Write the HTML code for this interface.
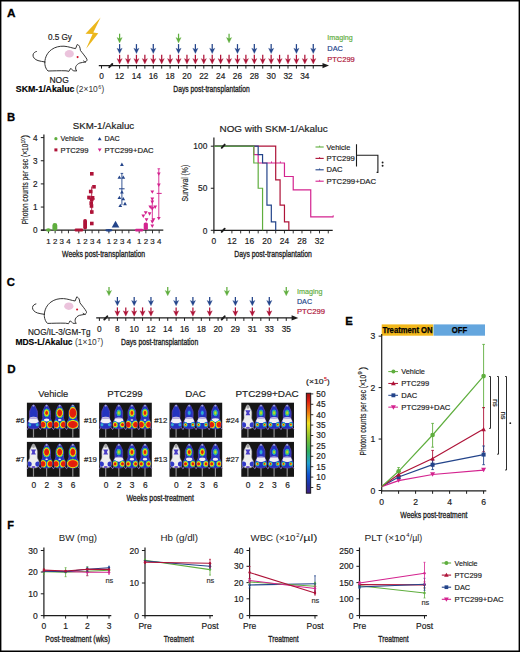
<!DOCTYPE html><html><head><meta charset="utf-8"><title>Figure</title><style>html,body{margin:0;padding:0;background:#fff;}body{width:520px;height:652px;position:relative;overflow:hidden;}text{font-family:"Liberation Sans",sans-serif;}</style></head><body><svg width="520" height="652" viewBox="0 0 520 652" style="position:absolute;left:0;top:0">
<g font-family='"Liberation Sans", sans-serif'>
<rect x="0" y="0" width="520" height="652" fill="#fff"/>
<defs>
<g id="mouse"><ellipse cx="69.3" cy="53.8" rx="4.6" ry="3.7" fill="#ebc3dc"/><circle cx="77.6" cy="57.1" r="1.05" fill="#d0102a"/><path d="M36.4,51.5 C35,51.8 33.2,53 33,55 C32.8,57.5 35,59.6 38,60.6 C40.2,61.3 42.5,61.5 44.8,61.9 M44.8,62.2 C45,57 47.5,52.5 51.5,49.6 C55,47 59.5,46 64,46.2 C68.5,46.5 72.5,48.2 75.6,48.6 L77.2,44.5 C78,44.6 79,45.4 79.6,46.6 C80.2,48 80.2,49.3 80.4,50.4 C82.6,53.3 85.5,56.6 86.9,59.2 C87.3,60.4 86.6,61.6 85,62 C83.5,62.4 81.5,62.5 79.8,63 C78,63.6 76.6,65 75.8,66.6 C75.4,68.4 75.6,69.8 76.8,70.9 L73.4,70.9 C72.6,69.8 71.6,68.8 70.4,68.6 C69.8,69.6 69.6,70.8 69,71.3 L66,70.8 C60,70.6 53,70.9 48,71 C46.2,69.4 45.2,66.8 44.9,64.4 C44.8,63.4 44.8,62.8 44.8,62.2 M83.6,61.0 C84.2,61.6 84.8,62 85.6,62.1 " fill="none" stroke="#2a2a2a" stroke-width="0.95" stroke-linejoin="round" stroke-linecap="round"/></g>
</defs>
<path d="M0 0 H520 V652 H0 Z M1.4 1.4 V650.6 H518.6 V1.4 Z" fill="#000" fill-rule="evenodd"/>
<text x="6.90" y="17.30" font-size="11.8" text-anchor="start" fill="#000" font-weight="bold" stroke="#000" stroke-width="0.3">A</text>
<use href="#mouse"/>
<text x="59.90" y="40.40" font-size="8.4" text-anchor="middle" fill="#1c1c1c" stroke="#1c1c1c" stroke-width="0.18" textLength="24" lengthAdjust="spacingAndGlyphs" >0.5 Gy</text>
<path d="M100.6,17.4 L85.5,33.7 L92.6,33.9 L86.1,48.7 L98.3,33.3 L93.3,32.6 Z" fill="#ecb71d"/>
<text x="59.10" y="82.70" font-size="8.4" text-anchor="middle" fill="#1c1c1c" stroke="#1c1c1c" stroke-width="0.18" textLength="19.3" lengthAdjust="spacingAndGlyphs" >NOG</text>
<text x="15.80" y="92.30" font-size="8.4" text-anchor="start" fill="#000" font-weight="bold" textLength="58.6" lengthAdjust="spacingAndGlyphs" stroke="#000" stroke-width="0.15">SKM-1/Akaluc</text>
<text x="76.00" y="92.30" font-size="8.2" text-anchor="start" fill="#333" stroke="#333" stroke-width="0.18" textLength="21.8" lengthAdjust="spacingAndGlyphs" stroke-opacity="0">(2×10</text>
<text x="98.30" y="89.20" font-size="5.4" text-anchor="start" fill="#333" stroke="#333" stroke-width="0.18" stroke-opacity="0">6</text>
<text x="101.50" y="92.30" font-size="8.2" text-anchor="start" fill="#333" stroke="#333" stroke-width="0.18" stroke-opacity="0">)</text>
<line x1="98.80" y1="65.60" x2="325.50" y2="65.60" stroke="#1c1c1c" stroke-width="1.2" />
<path d="M322.5 63.00 L329 65.60 L322.5 68.20 Z" fill="#1c1c1c"/>
<line x1="101.50" y1="65.60" x2="101.50" y2="68.60" stroke="#1c1c1c" stroke-width="1.0" />
<line x1="119.60" y1="65.60" x2="119.60" y2="68.60" stroke="#1c1c1c" stroke-width="1.0" />
<line x1="128.02" y1="65.60" x2="128.02" y2="68.60" stroke="#1c1c1c" stroke-width="1.0" />
<line x1="136.44" y1="65.60" x2="136.44" y2="68.60" stroke="#1c1c1c" stroke-width="1.0" />
<line x1="144.86" y1="65.60" x2="144.86" y2="68.60" stroke="#1c1c1c" stroke-width="1.0" />
<line x1="153.28" y1="65.60" x2="153.28" y2="68.60" stroke="#1c1c1c" stroke-width="1.0" />
<line x1="161.70" y1="65.60" x2="161.70" y2="68.60" stroke="#1c1c1c" stroke-width="1.0" />
<line x1="170.12" y1="65.60" x2="170.12" y2="68.60" stroke="#1c1c1c" stroke-width="1.0" />
<line x1="178.54" y1="65.60" x2="178.54" y2="68.60" stroke="#1c1c1c" stroke-width="1.0" />
<line x1="186.96" y1="65.60" x2="186.96" y2="68.60" stroke="#1c1c1c" stroke-width="1.0" />
<line x1="195.38" y1="65.60" x2="195.38" y2="68.60" stroke="#1c1c1c" stroke-width="1.0" />
<line x1="203.80" y1="65.60" x2="203.80" y2="68.60" stroke="#1c1c1c" stroke-width="1.0" />
<line x1="212.22" y1="65.60" x2="212.22" y2="68.60" stroke="#1c1c1c" stroke-width="1.0" />
<line x1="220.64" y1="65.60" x2="220.64" y2="68.60" stroke="#1c1c1c" stroke-width="1.0" />
<line x1="229.06" y1="65.60" x2="229.06" y2="68.60" stroke="#1c1c1c" stroke-width="1.0" />
<line x1="237.48" y1="65.60" x2="237.48" y2="68.60" stroke="#1c1c1c" stroke-width="1.0" />
<line x1="245.90" y1="65.60" x2="245.90" y2="68.60" stroke="#1c1c1c" stroke-width="1.0" />
<line x1="254.32" y1="65.60" x2="254.32" y2="68.60" stroke="#1c1c1c" stroke-width="1.0" />
<line x1="262.74" y1="65.60" x2="262.74" y2="68.60" stroke="#1c1c1c" stroke-width="1.0" />
<line x1="271.16" y1="65.60" x2="271.16" y2="68.60" stroke="#1c1c1c" stroke-width="1.0" />
<line x1="279.58" y1="65.60" x2="279.58" y2="68.60" stroke="#1c1c1c" stroke-width="1.0" />
<line x1="288.00" y1="65.60" x2="288.00" y2="68.60" stroke="#1c1c1c" stroke-width="1.0" />
<line x1="296.42" y1="65.60" x2="296.42" y2="68.60" stroke="#1c1c1c" stroke-width="1.0" />
<line x1="304.84" y1="65.60" x2="304.84" y2="68.60" stroke="#1c1c1c" stroke-width="1.0" />
<line x1="313.26" y1="65.60" x2="313.26" y2="68.60" stroke="#1c1c1c" stroke-width="1.0" />
<path d="M109.30 67.20 L112.30 64.00" stroke="#1c1c1c" stroke-width="1.9" stroke-linecap="round"/>
<text x="101.50" y="78.70" font-size="8.3" text-anchor="middle" fill="#1c1c1c" stroke="#1c1c1c" stroke-width="0.18" >0</text>
<text x="119.60" y="78.70" font-size="8.3" text-anchor="middle" fill="#1c1c1c" stroke="#1c1c1c" stroke-width="0.18" >12</text>
<text x="136.44" y="78.70" font-size="8.3" text-anchor="middle" fill="#1c1c1c" stroke="#1c1c1c" stroke-width="0.18" >14</text>
<text x="153.28" y="78.70" font-size="8.3" text-anchor="middle" fill="#1c1c1c" stroke="#1c1c1c" stroke-width="0.18" >16</text>
<text x="170.12" y="78.70" font-size="8.3" text-anchor="middle" fill="#1c1c1c" stroke="#1c1c1c" stroke-width="0.18" >18</text>
<text x="186.96" y="78.70" font-size="8.3" text-anchor="middle" fill="#1c1c1c" stroke="#1c1c1c" stroke-width="0.18" >20</text>
<text x="203.80" y="78.70" font-size="8.3" text-anchor="middle" fill="#1c1c1c" stroke="#1c1c1c" stroke-width="0.18" >22</text>
<text x="220.64" y="78.70" font-size="8.3" text-anchor="middle" fill="#1c1c1c" stroke="#1c1c1c" stroke-width="0.18" >24</text>
<text x="237.48" y="78.70" font-size="8.3" text-anchor="middle" fill="#1c1c1c" stroke="#1c1c1c" stroke-width="0.18" >26</text>
<text x="254.32" y="78.70" font-size="8.3" text-anchor="middle" fill="#1c1c1c" stroke="#1c1c1c" stroke-width="0.18" >28</text>
<text x="271.16" y="78.70" font-size="8.3" text-anchor="middle" fill="#1c1c1c" stroke="#1c1c1c" stroke-width="0.18" >30</text>
<text x="288.00" y="78.70" font-size="8.3" text-anchor="middle" fill="#1c1c1c" stroke="#1c1c1c" stroke-width="0.18" >32</text>
<text x="304.84" y="78.70" font-size="8.3" text-anchor="middle" fill="#1c1c1c" stroke="#1c1c1c" stroke-width="0.18" >34</text>
<text x="173.30" y="91.60" font-size="9.2" fill="#1c1c1c" stroke="#1c1c1c" stroke-width="0.32" textLength="76.40" lengthAdjust="spacingAndGlyphs">Days post-transplantation</text>
<path d="M119.60 54.80 V60.10" stroke="#ae1338" stroke-width="1.25"/>
<path d="M117.00 58.60 L119.60 64.00 L122.20 58.60 L119.60 59.90 Z" fill="#ae1338" stroke="#ae1338" stroke-width="0.3" stroke-linejoin="round"/>
<path d="M128.02 54.80 V60.10" stroke="#ae1338" stroke-width="1.25"/>
<path d="M125.42 58.60 L128.02 64.00 L130.62 58.60 L128.02 59.90 Z" fill="#ae1338" stroke="#ae1338" stroke-width="0.3" stroke-linejoin="round"/>
<path d="M136.44 54.80 V60.10" stroke="#ae1338" stroke-width="1.25"/>
<path d="M133.84 58.60 L136.44 64.00 L139.04 58.60 L136.44 59.90 Z" fill="#ae1338" stroke="#ae1338" stroke-width="0.3" stroke-linejoin="round"/>
<path d="M144.86 54.80 V60.10" stroke="#ae1338" stroke-width="1.25"/>
<path d="M142.26 58.60 L144.86 64.00 L147.46 58.60 L144.86 59.90 Z" fill="#ae1338" stroke="#ae1338" stroke-width="0.3" stroke-linejoin="round"/>
<path d="M153.28 54.80 V60.10" stroke="#ae1338" stroke-width="1.25"/>
<path d="M150.68 58.60 L153.28 64.00 L155.88 58.60 L153.28 59.90 Z" fill="#ae1338" stroke="#ae1338" stroke-width="0.3" stroke-linejoin="round"/>
<path d="M161.70 54.80 V60.10" stroke="#ae1338" stroke-width="1.25"/>
<path d="M159.10 58.60 L161.70 64.00 L164.30 58.60 L161.70 59.90 Z" fill="#ae1338" stroke="#ae1338" stroke-width="0.3" stroke-linejoin="round"/>
<path d="M170.12 54.80 V60.10" stroke="#ae1338" stroke-width="1.25"/>
<path d="M167.52 58.60 L170.12 64.00 L172.72 58.60 L170.12 59.90 Z" fill="#ae1338" stroke="#ae1338" stroke-width="0.3" stroke-linejoin="round"/>
<path d="M178.54 54.80 V60.10" stroke="#ae1338" stroke-width="1.25"/>
<path d="M175.94 58.60 L178.54 64.00 L181.14 58.60 L178.54 59.90 Z" fill="#ae1338" stroke="#ae1338" stroke-width="0.3" stroke-linejoin="round"/>
<path d="M186.96 54.80 V60.10" stroke="#ae1338" stroke-width="1.25"/>
<path d="M184.36 58.60 L186.96 64.00 L189.56 58.60 L186.96 59.90 Z" fill="#ae1338" stroke="#ae1338" stroke-width="0.3" stroke-linejoin="round"/>
<path d="M195.38 54.80 V60.10" stroke="#ae1338" stroke-width="1.25"/>
<path d="M192.78 58.60 L195.38 64.00 L197.98 58.60 L195.38 59.90 Z" fill="#ae1338" stroke="#ae1338" stroke-width="0.3" stroke-linejoin="round"/>
<path d="M203.80 54.80 V60.10" stroke="#ae1338" stroke-width="1.25"/>
<path d="M201.20 58.60 L203.80 64.00 L206.40 58.60 L203.80 59.90 Z" fill="#ae1338" stroke="#ae1338" stroke-width="0.3" stroke-linejoin="round"/>
<path d="M212.22 54.80 V60.10" stroke="#ae1338" stroke-width="1.25"/>
<path d="M209.62 58.60 L212.22 64.00 L214.82 58.60 L212.22 59.90 Z" fill="#ae1338" stroke="#ae1338" stroke-width="0.3" stroke-linejoin="round"/>
<path d="M220.64 54.80 V60.10" stroke="#ae1338" stroke-width="1.25"/>
<path d="M218.04 58.60 L220.64 64.00 L223.24 58.60 L220.64 59.90 Z" fill="#ae1338" stroke="#ae1338" stroke-width="0.3" stroke-linejoin="round"/>
<path d="M229.06 54.80 V60.10" stroke="#ae1338" stroke-width="1.25"/>
<path d="M226.46 58.60 L229.06 64.00 L231.66 58.60 L229.06 59.90 Z" fill="#ae1338" stroke="#ae1338" stroke-width="0.3" stroke-linejoin="round"/>
<path d="M237.48 54.80 V60.10" stroke="#ae1338" stroke-width="1.25"/>
<path d="M234.88 58.60 L237.48 64.00 L240.08 58.60 L237.48 59.90 Z" fill="#ae1338" stroke="#ae1338" stroke-width="0.3" stroke-linejoin="round"/>
<path d="M245.90 54.80 V60.10" stroke="#ae1338" stroke-width="1.25"/>
<path d="M243.30 58.60 L245.90 64.00 L248.50 58.60 L245.90 59.90 Z" fill="#ae1338" stroke="#ae1338" stroke-width="0.3" stroke-linejoin="round"/>
<path d="M254.32 54.80 V60.10" stroke="#ae1338" stroke-width="1.25"/>
<path d="M251.72 58.60 L254.32 64.00 L256.92 58.60 L254.32 59.90 Z" fill="#ae1338" stroke="#ae1338" stroke-width="0.3" stroke-linejoin="round"/>
<path d="M262.74 54.80 V60.10" stroke="#ae1338" stroke-width="1.25"/>
<path d="M260.14 58.60 L262.74 64.00 L265.34 58.60 L262.74 59.90 Z" fill="#ae1338" stroke="#ae1338" stroke-width="0.3" stroke-linejoin="round"/>
<path d="M271.16 54.80 V60.10" stroke="#ae1338" stroke-width="1.25"/>
<path d="M268.56 58.60 L271.16 64.00 L273.76 58.60 L271.16 59.90 Z" fill="#ae1338" stroke="#ae1338" stroke-width="0.3" stroke-linejoin="round"/>
<path d="M279.58 54.80 V60.10" stroke="#ae1338" stroke-width="1.25"/>
<path d="M276.98 58.60 L279.58 64.00 L282.18 58.60 L279.58 59.90 Z" fill="#ae1338" stroke="#ae1338" stroke-width="0.3" stroke-linejoin="round"/>
<path d="M288.00 54.80 V60.10" stroke="#ae1338" stroke-width="1.25"/>
<path d="M285.40 58.60 L288.00 64.00 L290.60 58.60 L288.00 59.90 Z" fill="#ae1338" stroke="#ae1338" stroke-width="0.3" stroke-linejoin="round"/>
<path d="M296.42 54.80 V60.10" stroke="#ae1338" stroke-width="1.25"/>
<path d="M293.82 58.60 L296.42 64.00 L299.02 58.60 L296.42 59.90 Z" fill="#ae1338" stroke="#ae1338" stroke-width="0.3" stroke-linejoin="round"/>
<path d="M304.84 54.80 V60.10" stroke="#ae1338" stroke-width="1.25"/>
<path d="M302.24 58.60 L304.84 64.00 L307.44 58.60 L304.84 59.90 Z" fill="#ae1338" stroke="#ae1338" stroke-width="0.3" stroke-linejoin="round"/>
<path d="M313.26 54.80 V60.10" stroke="#ae1338" stroke-width="1.25"/>
<path d="M310.66 58.60 L313.26 64.00 L315.86 58.60 L313.26 59.90 Z" fill="#ae1338" stroke="#ae1338" stroke-width="0.3" stroke-linejoin="round"/>
<path d="M119.60 44.10 V49.70" stroke="#23448a" stroke-width="1.25"/>
<path d="M117.00 48.20 L119.60 53.60 L122.20 48.20 L119.60 49.50 Z" fill="#23448a" stroke="#23448a" stroke-width="0.3" stroke-linejoin="round"/>
<path d="M136.44 44.10 V49.70" stroke="#23448a" stroke-width="1.25"/>
<path d="M133.84 48.20 L136.44 53.60 L139.04 48.20 L136.44 49.50 Z" fill="#23448a" stroke="#23448a" stroke-width="0.3" stroke-linejoin="round"/>
<path d="M153.28 44.10 V49.70" stroke="#23448a" stroke-width="1.25"/>
<path d="M150.68 48.20 L153.28 53.60 L155.88 48.20 L153.28 49.50 Z" fill="#23448a" stroke="#23448a" stroke-width="0.3" stroke-linejoin="round"/>
<path d="M178.54 44.10 V49.70" stroke="#23448a" stroke-width="1.25"/>
<path d="M175.94 48.20 L178.54 53.60 L181.14 48.20 L178.54 49.50 Z" fill="#23448a" stroke="#23448a" stroke-width="0.3" stroke-linejoin="round"/>
<path d="M195.38 44.10 V49.70" stroke="#23448a" stroke-width="1.25"/>
<path d="M192.78 48.20 L195.38 53.60 L197.98 48.20 L195.38 49.50 Z" fill="#23448a" stroke="#23448a" stroke-width="0.3" stroke-linejoin="round"/>
<path d="M212.22 44.10 V49.70" stroke="#23448a" stroke-width="1.25"/>
<path d="M209.62 48.20 L212.22 53.60 L214.82 48.20 L212.22 49.50 Z" fill="#23448a" stroke="#23448a" stroke-width="0.3" stroke-linejoin="round"/>
<path d="M237.48 44.10 V49.70" stroke="#23448a" stroke-width="1.25"/>
<path d="M234.88 48.20 L237.48 53.60 L240.08 48.20 L237.48 49.50 Z" fill="#23448a" stroke="#23448a" stroke-width="0.3" stroke-linejoin="round"/>
<path d="M254.32 44.10 V49.70" stroke="#23448a" stroke-width="1.25"/>
<path d="M251.72 48.20 L254.32 53.60 L256.92 48.20 L254.32 49.50 Z" fill="#23448a" stroke="#23448a" stroke-width="0.3" stroke-linejoin="round"/>
<path d="M271.16 44.10 V49.70" stroke="#23448a" stroke-width="1.25"/>
<path d="M268.56 48.20 L271.16 53.60 L273.76 48.20 L271.16 49.50 Z" fill="#23448a" stroke="#23448a" stroke-width="0.3" stroke-linejoin="round"/>
<path d="M296.42 44.10 V49.70" stroke="#23448a" stroke-width="1.25"/>
<path d="M293.82 48.20 L296.42 53.60 L299.02 48.20 L296.42 49.50 Z" fill="#23448a" stroke="#23448a" stroke-width="0.3" stroke-linejoin="round"/>
<path d="M313.26 44.10 V49.70" stroke="#23448a" stroke-width="1.25"/>
<path d="M310.66 48.20 L313.26 53.60 L315.86 48.20 L313.26 49.50 Z" fill="#23448a" stroke="#23448a" stroke-width="0.3" stroke-linejoin="round"/>
<path d="M119.60 33.70 V39.00" stroke="#5fae3e" stroke-width="1.25"/>
<path d="M117.00 37.50 L119.60 42.90 L122.20 37.50 L119.60 38.80 Z" fill="#5fae3e" stroke="#5fae3e" stroke-width="0.3" stroke-linejoin="round"/>
<path d="M178.54 33.70 V39.00" stroke="#5fae3e" stroke-width="1.25"/>
<path d="M175.94 37.50 L178.54 42.90 L181.14 37.50 L178.54 38.80 Z" fill="#5fae3e" stroke="#5fae3e" stroke-width="0.3" stroke-linejoin="round"/>
<path d="M229.06 33.70 V39.00" stroke="#5fae3e" stroke-width="1.25"/>
<path d="M226.46 37.50 L229.06 42.90 L231.66 37.50 L229.06 38.80 Z" fill="#5fae3e" stroke="#5fae3e" stroke-width="0.3" stroke-linejoin="round"/>
<text x="327.30" y="40.30" font-size="7.9" text-anchor="start" fill="#5fae3e" stroke="#5fae3e" stroke-width="0.18" textLength="25.4" lengthAdjust="spacingAndGlyphs" >Imaging</text>
<text x="327.30" y="50.80" font-size="7.9" text-anchor="start" fill="#23448a" stroke="#23448a" stroke-width="0.18" textLength="15.7" lengthAdjust="spacingAndGlyphs" >DAC</text>
<text x="327.30" y="61.60" font-size="7.9" text-anchor="start" fill="#ae1338" stroke="#ae1338" stroke-width="0.18" textLength="27.5" lengthAdjust="spacingAndGlyphs" >PTC299</text>
<text x="6.90" y="120.90" font-size="11.3" text-anchor="start" fill="#000" font-weight="bold" stroke="#000" stroke-width="0.3">B</text>
<text x="103.50" y="129.20" font-size="9.6" text-anchor="middle" fill="#1c1c1c" stroke="#1c1c1c" stroke-width="0.18" textLength="61.4" lengthAdjust="spacingAndGlyphs" >SKM-1/Akaluc</text>
<line x1="43.90" y1="134.60" x2="43.90" y2="230.80" stroke="#1c1c1c" stroke-width="1.2" />
<line x1="40.90" y1="230.20" x2="163.30" y2="230.20" stroke="#1c1c1c" stroke-width="1.2" />
<line x1="40.80" y1="230.20" x2="43.90" y2="230.20" stroke="#1c1c1c" stroke-width="1.0" />
<text x="37.60" y="233.10" font-size="8.2" text-anchor="end" fill="#1c1c1c" stroke="#1c1c1c" stroke-width="0.18" >0</text>
<line x1="40.80" y1="207.05" x2="43.90" y2="207.05" stroke="#1c1c1c" stroke-width="1.0" />
<text x="37.60" y="209.95" font-size="8.2" text-anchor="end" fill="#1c1c1c" stroke="#1c1c1c" stroke-width="0.18" >1</text>
<line x1="40.80" y1="183.90" x2="43.90" y2="183.90" stroke="#1c1c1c" stroke-width="1.0" />
<text x="37.60" y="186.80" font-size="8.2" text-anchor="end" fill="#1c1c1c" stroke="#1c1c1c" stroke-width="0.18" >2</text>
<line x1="40.80" y1="160.75" x2="43.90" y2="160.75" stroke="#1c1c1c" stroke-width="1.0" />
<text x="37.60" y="163.65" font-size="8.2" text-anchor="end" fill="#1c1c1c" stroke="#1c1c1c" stroke-width="0.18" >3</text>
<line x1="40.80" y1="137.60" x2="43.90" y2="137.60" stroke="#1c1c1c" stroke-width="1.0" />
<text x="37.60" y="140.50" font-size="8.2" text-anchor="end" fill="#1c1c1c" stroke="#1c1c1c" stroke-width="0.18" >4</text>
<line x1="48.50" y1="230.20" x2="48.50" y2="233.30" stroke="#1c1c1c" stroke-width="0.9" />
<text x="48.50" y="243.90" font-size="7.9" text-anchor="middle" fill="#1c1c1c" stroke="#1c1c1c" stroke-width="0.18" >1</text>
<line x1="55.15" y1="230.20" x2="55.15" y2="233.30" stroke="#1c1c1c" stroke-width="0.9" />
<text x="55.15" y="243.90" font-size="7.9" text-anchor="middle" fill="#1c1c1c" stroke="#1c1c1c" stroke-width="0.18" >2</text>
<line x1="61.80" y1="230.20" x2="61.80" y2="233.30" stroke="#1c1c1c" stroke-width="0.9" />
<text x="61.80" y="243.90" font-size="7.9" text-anchor="middle" fill="#1c1c1c" stroke="#1c1c1c" stroke-width="0.18" >3</text>
<line x1="68.45" y1="230.20" x2="68.45" y2="233.30" stroke="#1c1c1c" stroke-width="0.9" />
<text x="68.45" y="243.90" font-size="7.9" text-anchor="middle" fill="#1c1c1c" stroke="#1c1c1c" stroke-width="0.18" >4</text>
<line x1="78.80" y1="230.20" x2="78.80" y2="233.30" stroke="#1c1c1c" stroke-width="0.9" />
<text x="78.80" y="243.90" font-size="7.9" text-anchor="middle" fill="#1c1c1c" stroke="#1c1c1c" stroke-width="0.18" >1</text>
<line x1="85.45" y1="230.20" x2="85.45" y2="233.30" stroke="#1c1c1c" stroke-width="0.9" />
<text x="85.45" y="243.90" font-size="7.9" text-anchor="middle" fill="#1c1c1c" stroke="#1c1c1c" stroke-width="0.18" >2</text>
<line x1="92.10" y1="230.20" x2="92.10" y2="233.30" stroke="#1c1c1c" stroke-width="0.9" />
<text x="92.10" y="243.90" font-size="7.9" text-anchor="middle" fill="#1c1c1c" stroke="#1c1c1c" stroke-width="0.18" >3</text>
<line x1="98.75" y1="230.20" x2="98.75" y2="233.30" stroke="#1c1c1c" stroke-width="0.9" />
<text x="98.75" y="243.90" font-size="7.9" text-anchor="middle" fill="#1c1c1c" stroke="#1c1c1c" stroke-width="0.18" >4</text>
<line x1="108.90" y1="230.20" x2="108.90" y2="233.30" stroke="#1c1c1c" stroke-width="0.9" />
<text x="108.90" y="243.90" font-size="7.9" text-anchor="middle" fill="#1c1c1c" stroke="#1c1c1c" stroke-width="0.18" >1</text>
<line x1="115.55" y1="230.20" x2="115.55" y2="233.30" stroke="#1c1c1c" stroke-width="0.9" />
<text x="115.55" y="243.90" font-size="7.9" text-anchor="middle" fill="#1c1c1c" stroke="#1c1c1c" stroke-width="0.18" >2</text>
<line x1="122.20" y1="230.20" x2="122.20" y2="233.30" stroke="#1c1c1c" stroke-width="0.9" />
<text x="122.20" y="243.90" font-size="7.9" text-anchor="middle" fill="#1c1c1c" stroke="#1c1c1c" stroke-width="0.18" >3</text>
<line x1="128.85" y1="230.20" x2="128.85" y2="233.30" stroke="#1c1c1c" stroke-width="0.9" />
<text x="128.85" y="243.90" font-size="7.9" text-anchor="middle" fill="#1c1c1c" stroke="#1c1c1c" stroke-width="0.18" >4</text>
<line x1="139.20" y1="230.20" x2="139.20" y2="233.30" stroke="#1c1c1c" stroke-width="0.9" />
<text x="139.20" y="243.90" font-size="7.9" text-anchor="middle" fill="#1c1c1c" stroke="#1c1c1c" stroke-width="0.18" >1</text>
<line x1="145.85" y1="230.20" x2="145.85" y2="233.30" stroke="#1c1c1c" stroke-width="0.9" />
<text x="145.85" y="243.90" font-size="7.9" text-anchor="middle" fill="#1c1c1c" stroke="#1c1c1c" stroke-width="0.18" >2</text>
<line x1="152.50" y1="230.20" x2="152.50" y2="233.30" stroke="#1c1c1c" stroke-width="0.9" />
<text x="152.50" y="243.90" font-size="7.9" text-anchor="middle" fill="#1c1c1c" stroke="#1c1c1c" stroke-width="0.18" >3</text>
<line x1="159.15" y1="230.20" x2="159.15" y2="233.30" stroke="#1c1c1c" stroke-width="0.9" />
<text x="159.15" y="243.90" font-size="7.9" text-anchor="middle" fill="#1c1c1c" stroke="#1c1c1c" stroke-width="0.18" >4</text>
<text x="62.10" y="256.70" font-size="9.2" fill="#1c1c1c" stroke="#1c1c1c" stroke-width="0.32" textLength="83.10" lengthAdjust="spacingAndGlyphs">Weeks post-transplantation</text>
<g transform="translate(28.4 224.3) rotate(-90)">
<text x="0.00" y="0.00" font-size="9.6" text-anchor="start" fill="#1c1c1c" stroke="#1c1c1c" stroke-width="0.18" textLength="80.6" lengthAdjust="spacingAndGlyphs" >Photon counts per sec (×10</text>
<text x="81.00" y="-3.80" font-size="5.6" text-anchor="start" fill="#1c1c1c" stroke="#1c1c1c" stroke-width="0.18" textLength="5.0" lengthAdjust="spacingAndGlyphs" >10</text>
<text x="86.20" y="0.00" font-size="9.6" text-anchor="start" fill="#1c1c1c" stroke="#1c1c1c" stroke-width="0.18" >)</text>
</g>
<circle cx="55.9" cy="138.7" r="1.6" fill="#5fae3e"/>
<text x="60.60" y="141.40" font-size="7.8" text-anchor="start" fill="#1c1c1c" stroke="#1c1c1c" stroke-width="0.18" textLength="23.2" lengthAdjust="spacingAndGlyphs" >Vehicle</text>
<rect x="54.4" y="148.4" width="3.0" height="3.0" fill="#ae1338"/>
<text x="60.60" y="152.70" font-size="7.8" text-anchor="start" fill="#1c1c1c" stroke="#1c1c1c" stroke-width="0.18" textLength="27.9" lengthAdjust="spacingAndGlyphs" >PTC299</text>
<path d="M97.8 140.3 L99.7 136.9 L101.6 140.3 Z" fill="#23448a"/>
<text x="104.60" y="141.40" font-size="7.8" text-anchor="start" fill="#1c1c1c" stroke="#1c1c1c" stroke-width="0.18" textLength="15.2" lengthAdjust="spacingAndGlyphs" >DAC</text>
<path d="M97.8 148.4 L99.7 151.8 L101.6 148.4 Z" fill="#d4238f"/>
<text x="104.60" y="152.70" font-size="7.8" text-anchor="start" fill="#1c1c1c" stroke="#1c1c1c" stroke-width="0.18" textLength="49.1" lengthAdjust="spacingAndGlyphs" >PTC299+DAC</text>
<ellipse cx="48.4" cy="230.0" rx="2.5" ry="1.7" fill="#5fae3e"/>
<rect x="52.4" y="223.1" width="4.9" height="7.8" rx="2.4" fill="#5fae3e"/>
<rect x="74.6" y="228.6" width="8.6" height="2.8" rx="1.2" fill="#ae1338"/>
<rect x="83.2" y="219.0" width="3.8" height="10.5" rx="1.8" fill="#ae1338"/>
<line x1="91.70" y1="186.50" x2="91.70" y2="214.00" stroke="#ae1338" stroke-width="0.9" />
<line x1="88.60" y1="199.00" x2="94.80" y2="199.00" stroke="#ae1338" stroke-width="1.0" />
<rect x="90.00" y="172.00" width="3.6" height="3.6" fill="#ae1338"/>
<rect x="92.20" y="185.00" width="3.6" height="3.6" fill="#ae1338"/>
<rect x="88.90" y="189.70" width="3.6" height="3.6" fill="#ae1338"/>
<rect x="87.20" y="195.70" width="3.6" height="3.6" fill="#ae1338"/>
<rect x="90.80" y="196.00" width="3.6" height="3.6" fill="#ae1338"/>
<rect x="90.00" y="197.70" width="3.6" height="3.6" fill="#ae1338"/>
<rect x="89.40" y="201.20" width="3.6" height="3.6" fill="#ae1338"/>
<rect x="89.70" y="204.20" width="3.6" height="3.6" fill="#ae1338"/>
<rect x="90.00" y="210.20" width="3.6" height="3.6" fill="#ae1338"/>
<rect x="90.00" y="221.70" width="3.6" height="3.6" fill="#ae1338"/>
<ellipse cx="108.8" cy="230.3" rx="3.6" ry="1.4" fill="#23448a"/>
<path d="M111.7 227.6 L115.5 220.7 L119.4 227.6 Z" fill="#23448a"/>
<line x1="121.90" y1="173.40" x2="121.90" y2="205.00" stroke="#23448a" stroke-width="0.9" />
<line x1="120.60" y1="173.40" x2="123.20" y2="173.40" stroke="#23448a" stroke-width="0.9" />
<line x1="119.00" y1="188.80" x2="124.60" y2="188.80" stroke="#23448a" stroke-width="1.0" />
<path d="M120.00 165.91 L121.90 162.49 L123.80 165.91 Z" fill="#23448a"/>
<path d="M117.50 178.81 L119.40 175.39 L121.30 178.81 Z" fill="#23448a"/>
<path d="M121.40 178.81 L123.30 175.39 L125.20 178.81 Z" fill="#23448a"/>
<path d="M120.00 193.61 L121.90 190.19 L123.80 193.61 Z" fill="#23448a"/>
<path d="M117.50 199.11 L119.40 195.69 L121.30 199.11 Z" fill="#23448a"/>
<path d="M121.40 200.31 L123.30 196.89 L125.20 200.31 Z" fill="#23448a"/>
<path d="M123.10 205.21 L125.00 201.79 L126.90 205.21 Z" fill="#23448a"/>
<path d="M118.40 207.11 L120.30 203.69 L122.20 207.11 Z" fill="#23448a"/>
<rect x="135" y="228.8" width="8.2" height="2.6" rx="1.2" fill="#d4238f"/>
<rect x="143.7" y="222.5" width="4.2" height="7.5" rx="1.6" fill="#d4238f"/>
<path d="M143.80 211.29 L145.70 214.71 L147.60 211.29 Z" fill="#d4238f"/>
<path d="M141.40 214.49 L143.30 217.91 L145.20 214.49 Z" fill="#d4238f"/>
<path d="M147.70 212.29 L149.60 215.71 L151.50 212.29 Z" fill="#d4238f"/>
<path d="M144.60 218.29 L146.50 221.71 L148.40 218.29 Z" fill="#d4238f"/>
<line x1="152.30" y1="199.30" x2="152.30" y2="222.00" stroke="#d4238f" stroke-width="0.9" />
<line x1="150.30" y1="207.20" x2="154.50" y2="207.20" stroke="#d4238f" stroke-width="0.9" />
<path d="M150.40 190.39 L152.30 193.81 L154.20 190.39 Z" fill="#d4238f"/>
<path d="M150.40 197.59 L152.30 201.01 L154.20 197.59 Z" fill="#d4238f"/>
<path d="M150.40 200.59 L152.30 204.01 L154.20 200.59 Z" fill="#d4238f"/>
<path d="M148.40 205.49 L150.30 208.91 L152.20 205.49 Z" fill="#d4238f"/>
<path d="M153.30 205.49 L155.20 208.91 L157.10 205.49 Z" fill="#d4238f"/>
<path d="M150.40 207.29 L152.30 210.71 L154.20 207.29 Z" fill="#d4238f"/>
<path d="M151.60 218.19 L153.50 221.61 L155.40 218.19 Z" fill="#d4238f"/>
<path d="M150.40 220.29 L152.30 223.71 L154.20 220.29 Z" fill="#d4238f"/>
<path d="M150.40 224.59 L152.30 228.01 L154.20 224.59 Z" fill="#d4238f"/>
<line x1="158.80" y1="168.80" x2="158.80" y2="218.60" stroke="#d4238f" stroke-width="0.9" />
<line x1="157.50" y1="168.80" x2="160.10" y2="168.80" stroke="#d4238f" stroke-width="0.9" />
<line x1="156.70" y1="193.40" x2="161.70" y2="193.40" stroke="#d4238f" stroke-width="1.0" />
<path d="M156.90 172.39 L158.80 175.81 L160.70 172.39 Z" fill="#d4238f"/>
<path d="M156.90 183.49 L158.80 186.91 L160.70 183.49 Z" fill="#d4238f"/>
<path d="M156.90 216.89 L158.80 220.31 L160.70 216.89 Z" fill="#d4238f"/>
<text x="273.60" y="132.20" font-size="9.6" text-anchor="middle" fill="#1c1c1c" stroke="#1c1c1c" stroke-width="0.18" textLength="108.2" lengthAdjust="spacingAndGlyphs" >NOG with SKM-1/Akaluc</text>
<line x1="213.90" y1="137.40" x2="213.90" y2="233.40" stroke="#1c1c1c" stroke-width="1.2" />
<line x1="213.90" y1="230.30" x2="332.70" y2="230.30" stroke="#1c1c1c" stroke-width="1.2" />
<line x1="210.80" y1="230.30" x2="213.90" y2="230.30" stroke="#1c1c1c" stroke-width="1.0" />
<line x1="210.80" y1="188.25" x2="213.90" y2="188.25" stroke="#1c1c1c" stroke-width="1.0" />
<line x1="210.80" y1="146.20" x2="213.90" y2="146.20" stroke="#1c1c1c" stroke-width="1.0" />
<text x="207.30" y="148.90" font-size="8.4" text-anchor="end" fill="#1c1c1c" stroke="#1c1c1c" stroke-width="0.18" >100</text>
<text x="207.30" y="191.20" font-size="8.4" text-anchor="end" fill="#1c1c1c" stroke="#1c1c1c" stroke-width="0.18" >50</text>
<text x="207.30" y="233.50" font-size="8.4" text-anchor="end" fill="#1c1c1c" stroke="#1c1c1c" stroke-width="0.18" >0</text>
<line x1="231.90" y1="230.30" x2="231.90" y2="233.40" stroke="#1c1c1c" stroke-width="0.9" />
<line x1="240.66" y1="230.30" x2="240.66" y2="233.40" stroke="#1c1c1c" stroke-width="0.9" />
<line x1="249.42" y1="230.30" x2="249.42" y2="233.40" stroke="#1c1c1c" stroke-width="0.9" />
<line x1="258.18" y1="230.30" x2="258.18" y2="233.40" stroke="#1c1c1c" stroke-width="0.9" />
<line x1="266.94" y1="230.30" x2="266.94" y2="233.40" stroke="#1c1c1c" stroke-width="0.9" />
<line x1="275.70" y1="230.30" x2="275.70" y2="233.40" stroke="#1c1c1c" stroke-width="0.9" />
<line x1="284.46" y1="230.30" x2="284.46" y2="233.40" stroke="#1c1c1c" stroke-width="0.9" />
<line x1="293.22" y1="230.30" x2="293.22" y2="233.40" stroke="#1c1c1c" stroke-width="0.9" />
<line x1="301.98" y1="230.30" x2="301.98" y2="233.40" stroke="#1c1c1c" stroke-width="0.9" />
<line x1="310.74" y1="230.30" x2="310.74" y2="233.40" stroke="#1c1c1c" stroke-width="0.9" />
<line x1="319.50" y1="230.30" x2="319.50" y2="233.40" stroke="#1c1c1c" stroke-width="0.9" />
<line x1="328.26" y1="230.30" x2="328.26" y2="233.40" stroke="#1c1c1c" stroke-width="0.9" />
<text x="231.90" y="244.40" font-size="8.4" text-anchor="middle" fill="#1c1c1c" stroke="#1c1c1c" stroke-width="0.18" >12</text>
<text x="249.42" y="244.40" font-size="8.4" text-anchor="middle" fill="#1c1c1c" stroke="#1c1c1c" stroke-width="0.18" >16</text>
<text x="266.94" y="244.40" font-size="8.4" text-anchor="middle" fill="#1c1c1c" stroke="#1c1c1c" stroke-width="0.18" >20</text>
<text x="284.46" y="244.40" font-size="8.4" text-anchor="middle" fill="#1c1c1c" stroke="#1c1c1c" stroke-width="0.18" >24</text>
<text x="301.98" y="244.40" font-size="8.4" text-anchor="middle" fill="#1c1c1c" stroke="#1c1c1c" stroke-width="0.18" >28</text>
<text x="319.50" y="244.40" font-size="8.4" text-anchor="middle" fill="#1c1c1c" stroke="#1c1c1c" stroke-width="0.18" >32</text>
<text x="213.90" y="244.40" font-size="8.4" text-anchor="middle" fill="#1c1c1c" stroke="#1c1c1c" stroke-width="0.18" >0</text>
<text x="234.30" y="256.70" font-size="9.2" fill="#1c1c1c" stroke="#1c1c1c" stroke-width="0.32" textLength="77.50" lengthAdjust="spacingAndGlyphs">Days post-transplantation</text>
<g transform="translate(187.8 201.5) rotate(-90)">
<text x="0.00" y="0.00" font-size="9.2" text-anchor="start" fill="#1c1c1c" stroke="#1c1c1c" stroke-width="0.18" textLength="36.7" lengthAdjust="spacingAndGlyphs" >Survival (%)</text>
</g>
<path d="M213.90 146.20 L253.80 146.20 L253.80 154.61 L258.18 154.61 L258.18 163.02 L284.46 163.02 L284.46 176.48 L293.22 176.48 L293.22 189.93 L310.74 189.93 L310.74 216.84 L333.20 216.84" stroke="#d4238f" stroke-width="1.2" fill="none" />
<line x1="271.50" y1="161.42" x2="271.50" y2="163.02" stroke="#d4238f" stroke-width="0.9" />
<line x1="280.40" y1="161.42" x2="280.40" y2="163.02" stroke="#d4238f" stroke-width="0.9" />
<line x1="333.20" y1="215.24" x2="333.20" y2="217.34" stroke="#d4238f" stroke-width="0.9" />
<path d="M213.90 146.20 L275.70 146.20 L275.70 179.84 L280.08 179.84 L280.08 205.07 L284.46 205.07 L284.46 221.89 L288.84 221.89 L288.84 230.30" stroke="#ae1338" stroke-width="1.2" fill="none" />
<path d="M213.90 146.20 L258.18 146.20 L258.18 154.61 L262.56 154.61 L262.56 163.02 L266.94 163.02 L266.94 205.07 L271.32 205.07 L271.32 221.89 L275.70 221.89 L275.70 230.30" stroke="#23448a" stroke-width="1.2" fill="none" />
<path d="M213.90 146.20 L253.80 146.20 L253.80 163.02 L258.18 163.02 L258.18 188.25 L262.56 188.25 L262.56 230.30" stroke="#5fae3e" stroke-width="1.2" fill="none" />
<path d="M221.70 147.80 L224.70 144.60" stroke="#1c1c1c" stroke-width="1.9" stroke-linecap="round"/>
<path d="M221.70 231.90 L224.70 228.70" stroke="#1c1c1c" stroke-width="1.9" stroke-linecap="round"/>
<line x1="315.50" y1="147.00" x2="323.70" y2="147.00" stroke="#5fae3e" stroke-width="1.1" />
<line x1="319.60" y1="145.60" x2="319.60" y2="147.00" stroke="#5fae3e" stroke-width="0.8" />
<text x="326.60" y="149.60" font-size="7.8" text-anchor="start" fill="#1c1c1c" stroke="#1c1c1c" stroke-width="0.18" textLength="23.7" lengthAdjust="spacingAndGlyphs" >Vehicle</text>
<line x1="315.50" y1="158.40" x2="323.70" y2="158.40" stroke="#ae1338" stroke-width="1.1" />
<line x1="319.60" y1="157.00" x2="319.60" y2="158.40" stroke="#ae1338" stroke-width="0.8" />
<text x="326.60" y="161.00" font-size="7.8" text-anchor="start" fill="#1c1c1c" stroke="#1c1c1c" stroke-width="0.18" textLength="28.3" lengthAdjust="spacingAndGlyphs" >PTC299</text>
<line x1="315.50" y1="169.80" x2="323.70" y2="169.80" stroke="#23448a" stroke-width="1.1" />
<line x1="319.60" y1="168.40" x2="319.60" y2="169.80" stroke="#23448a" stroke-width="0.8" />
<text x="326.60" y="172.40" font-size="7.8" text-anchor="start" fill="#1c1c1c" stroke="#1c1c1c" stroke-width="0.18" textLength="16.0" lengthAdjust="spacingAndGlyphs" >DAC</text>
<line x1="315.50" y1="181.20" x2="323.70" y2="181.20" stroke="#d4238f" stroke-width="1.1" />
<line x1="319.60" y1="179.80" x2="319.60" y2="181.20" stroke="#d4238f" stroke-width="0.8" />
<text x="326.60" y="183.80" font-size="7.8" text-anchor="start" fill="#1c1c1c" stroke="#1c1c1c" stroke-width="0.18" textLength="49.6" lengthAdjust="spacingAndGlyphs" >PTC299+DAC</text>
<path d="M356.5 144.2 V166.5 M356.5 155.2 H377.9 V172.4 H376.6" stroke="#1c1c1c" stroke-width="1.1" fill="none" />
<circle cx="382.6" cy="162.5" r="0.95" fill="#1c1c1c"/><circle cx="382.6" cy="165.7" r="0.95" fill="#1c1c1c"/>
<text x="6.80" y="285.90" font-size="11.3" text-anchor="start" fill="#000" font-weight="bold" stroke="#000" stroke-width="0.3">C</text>
<use href="#mouse" transform="translate(-0.5 252.4)"/>
<text x="59.20" y="335.40" font-size="8.4" text-anchor="middle" fill="#1c1c1c" stroke="#1c1c1c" stroke-width="0.18" textLength="62.5" lengthAdjust="spacingAndGlyphs" >NOG/IL-3/GM-Tg</text>
<text x="15.40" y="345.20" font-size="8.4" text-anchor="start" fill="#000" font-weight="bold" textLength="57.2" lengthAdjust="spacingAndGlyphs" stroke="#000" stroke-width="0.15">MDS-L/Akaluc</text>
<text x="75.00" y="345.20" font-size="8.2" text-anchor="start" fill="#333" stroke="#333" stroke-width="0.18" textLength="21.8" lengthAdjust="spacingAndGlyphs" stroke-opacity="0">(1×10</text>
<text x="97.30" y="342.10" font-size="5.4" text-anchor="start" fill="#333" stroke="#333" stroke-width="0.18" stroke-opacity="0">7</text>
<text x="100.50" y="345.20" font-size="8.2" text-anchor="start" fill="#333" stroke="#333" stroke-width="0.18" stroke-opacity="0">)</text>
<line x1="96.20" y1="317.90" x2="294.00" y2="317.90" stroke="#1c1c1c" stroke-width="1.2" />
<path d="M291.6 315.30 L298.3 317.90 L291.6 320.50 Z" fill="#1c1c1c"/>
<line x1="99.40" y1="317.90" x2="99.40" y2="320.90" stroke="#1c1c1c" stroke-width="1.0" />
<line x1="109.01" y1="317.90" x2="109.01" y2="320.90" stroke="#1c1c1c" stroke-width="1.0" />
<line x1="117.40" y1="317.90" x2="117.40" y2="320.90" stroke="#1c1c1c" stroke-width="1.0" />
<line x1="125.79" y1="317.90" x2="125.79" y2="320.90" stroke="#1c1c1c" stroke-width="1.0" />
<line x1="134.18" y1="317.90" x2="134.18" y2="320.90" stroke="#1c1c1c" stroke-width="1.0" />
<line x1="142.57" y1="317.90" x2="142.57" y2="320.90" stroke="#1c1c1c" stroke-width="1.0" />
<line x1="150.96" y1="317.90" x2="150.96" y2="320.90" stroke="#1c1c1c" stroke-width="1.0" />
<line x1="159.35" y1="317.90" x2="159.35" y2="320.90" stroke="#1c1c1c" stroke-width="1.0" />
<line x1="167.74" y1="317.90" x2="167.74" y2="320.90" stroke="#1c1c1c" stroke-width="1.0" />
<line x1="176.13" y1="317.90" x2="176.13" y2="320.90" stroke="#1c1c1c" stroke-width="1.0" />
<line x1="184.52" y1="317.90" x2="184.52" y2="320.90" stroke="#1c1c1c" stroke-width="1.0" />
<line x1="192.91" y1="317.90" x2="192.91" y2="320.90" stroke="#1c1c1c" stroke-width="1.0" />
<line x1="201.30" y1="317.90" x2="201.30" y2="320.90" stroke="#1c1c1c" stroke-width="1.0" />
<line x1="209.69" y1="317.90" x2="209.69" y2="320.90" stroke="#1c1c1c" stroke-width="1.0" />
<line x1="218.08" y1="317.90" x2="218.08" y2="320.90" stroke="#1c1c1c" stroke-width="1.0" />
<line x1="226.90" y1="317.90" x2="226.90" y2="320.90" stroke="#1c1c1c" stroke-width="1.0" />
<line x1="235.38" y1="317.90" x2="235.38" y2="320.90" stroke="#1c1c1c" stroke-width="1.0" />
<line x1="243.86" y1="317.90" x2="243.86" y2="320.90" stroke="#1c1c1c" stroke-width="1.0" />
<line x1="252.34" y1="317.90" x2="252.34" y2="320.90" stroke="#1c1c1c" stroke-width="1.0" />
<line x1="260.82" y1="317.90" x2="260.82" y2="320.90" stroke="#1c1c1c" stroke-width="1.0" />
<line x1="269.30" y1="317.90" x2="269.30" y2="320.90" stroke="#1c1c1c" stroke-width="1.0" />
<line x1="277.78" y1="317.90" x2="277.78" y2="320.90" stroke="#1c1c1c" stroke-width="1.0" />
<line x1="286.26" y1="317.90" x2="286.26" y2="320.90" stroke="#1c1c1c" stroke-width="1.0" />
<path d="M104.30 319.50 L107.30 316.30" stroke="#1c1c1c" stroke-width="1.9" stroke-linecap="round"/>
<path d="M221.70 319.50 L224.70 316.30" stroke="#1c1c1c" stroke-width="1.9" stroke-linecap="round"/>
<text x="99.40" y="331.80" font-size="8.3" text-anchor="middle" fill="#1c1c1c" stroke="#1c1c1c" stroke-width="0.18" >0</text>
<text x="117.40" y="331.80" font-size="8.3" text-anchor="middle" fill="#1c1c1c" stroke="#1c1c1c" stroke-width="0.18" >8</text>
<text x="134.18" y="331.80" font-size="8.3" text-anchor="middle" fill="#1c1c1c" stroke="#1c1c1c" stroke-width="0.18" >10</text>
<text x="150.96" y="331.80" font-size="8.3" text-anchor="middle" fill="#1c1c1c" stroke="#1c1c1c" stroke-width="0.18" >12</text>
<text x="167.74" y="331.80" font-size="8.3" text-anchor="middle" fill="#1c1c1c" stroke="#1c1c1c" stroke-width="0.18" >14</text>
<text x="184.52" y="331.80" font-size="8.3" text-anchor="middle" fill="#1c1c1c" stroke="#1c1c1c" stroke-width="0.18" >16</text>
<text x="201.30" y="331.80" font-size="8.3" text-anchor="middle" fill="#1c1c1c" stroke="#1c1c1c" stroke-width="0.18" >18</text>
<text x="218.08" y="331.80" font-size="8.3" text-anchor="middle" fill="#1c1c1c" stroke="#1c1c1c" stroke-width="0.18" >20</text>
<text x="235.38" y="331.80" font-size="8.3" text-anchor="middle" fill="#1c1c1c" stroke="#1c1c1c" stroke-width="0.18" >29</text>
<text x="252.34" y="331.80" font-size="8.3" text-anchor="middle" fill="#1c1c1c" stroke="#1c1c1c" stroke-width="0.18" >31</text>
<text x="269.30" y="331.80" font-size="8.3" text-anchor="middle" fill="#1c1c1c" stroke="#1c1c1c" stroke-width="0.18" >33</text>
<text x="286.26" y="331.80" font-size="8.3" text-anchor="middle" fill="#1c1c1c" stroke="#1c1c1c" stroke-width="0.18" >35</text>
<text x="121.00" y="344.60" font-size="9.2" fill="#1c1c1c" stroke="#1c1c1c" stroke-width="0.32" textLength="77.20" lengthAdjust="spacingAndGlyphs">Days post-transplantation</text>
<path d="M117.40 307.40 V312.30" stroke="#ae1338" stroke-width="1.25"/>
<path d="M114.80 310.80 L117.40 316.20 L120.00 310.80 L117.40 312.10 Z" fill="#ae1338" stroke="#ae1338" stroke-width="0.3" stroke-linejoin="round"/>
<path d="M125.79 307.40 V312.30" stroke="#ae1338" stroke-width="1.25"/>
<path d="M123.19 310.80 L125.79 316.20 L128.39 310.80 L125.79 312.10 Z" fill="#ae1338" stroke="#ae1338" stroke-width="0.3" stroke-linejoin="round"/>
<path d="M134.18 307.40 V312.30" stroke="#ae1338" stroke-width="1.25"/>
<path d="M131.58 310.80 L134.18 316.20 L136.78 310.80 L134.18 312.10 Z" fill="#ae1338" stroke="#ae1338" stroke-width="0.3" stroke-linejoin="round"/>
<path d="M142.57 307.40 V312.30" stroke="#ae1338" stroke-width="1.25"/>
<path d="M139.97 310.80 L142.57 316.20 L145.17 310.80 L142.57 312.10 Z" fill="#ae1338" stroke="#ae1338" stroke-width="0.3" stroke-linejoin="round"/>
<path d="M150.96 307.40 V312.30" stroke="#ae1338" stroke-width="1.25"/>
<path d="M148.36 310.80 L150.96 316.20 L153.56 310.80 L150.96 312.10 Z" fill="#ae1338" stroke="#ae1338" stroke-width="0.3" stroke-linejoin="round"/>
<path d="M176.13 307.40 V312.30" stroke="#ae1338" stroke-width="1.25"/>
<path d="M173.53 310.80 L176.13 316.20 L178.73 310.80 L176.13 312.10 Z" fill="#ae1338" stroke="#ae1338" stroke-width="0.3" stroke-linejoin="round"/>
<path d="M192.91 307.40 V312.30" stroke="#ae1338" stroke-width="1.25"/>
<path d="M190.31 310.80 L192.91 316.20 L195.51 310.80 L192.91 312.10 Z" fill="#ae1338" stroke="#ae1338" stroke-width="0.3" stroke-linejoin="round"/>
<path d="M209.69 307.40 V312.30" stroke="#ae1338" stroke-width="1.25"/>
<path d="M207.09 310.80 L209.69 316.20 L212.29 310.80 L209.69 312.10 Z" fill="#ae1338" stroke="#ae1338" stroke-width="0.3" stroke-linejoin="round"/>
<path d="M235.38 307.40 V312.30" stroke="#ae1338" stroke-width="1.25"/>
<path d="M232.78 310.80 L235.38 316.20 L237.98 310.80 L235.38 312.10 Z" fill="#ae1338" stroke="#ae1338" stroke-width="0.3" stroke-linejoin="round"/>
<path d="M252.34 307.40 V312.30" stroke="#ae1338" stroke-width="1.25"/>
<path d="M249.74 310.80 L252.34 316.20 L254.94 310.80 L252.34 312.10 Z" fill="#ae1338" stroke="#ae1338" stroke-width="0.3" stroke-linejoin="round"/>
<path d="M269.30 307.40 V312.30" stroke="#ae1338" stroke-width="1.25"/>
<path d="M266.70 310.80 L269.30 316.20 L271.90 310.80 L269.30 312.10 Z" fill="#ae1338" stroke="#ae1338" stroke-width="0.3" stroke-linejoin="round"/>
<path d="M117.40 297.00 V301.90" stroke="#23448a" stroke-width="1.25"/>
<path d="M114.80 300.40 L117.40 305.80 L120.00 300.40 L117.40 301.70 Z" fill="#23448a" stroke="#23448a" stroke-width="0.3" stroke-linejoin="round"/>
<path d="M134.18 297.00 V301.90" stroke="#23448a" stroke-width="1.25"/>
<path d="M131.58 300.40 L134.18 305.80 L136.78 300.40 L134.18 301.70 Z" fill="#23448a" stroke="#23448a" stroke-width="0.3" stroke-linejoin="round"/>
<path d="M150.96 297.00 V301.90" stroke="#23448a" stroke-width="1.25"/>
<path d="M148.36 300.40 L150.96 305.80 L153.56 300.40 L150.96 301.70 Z" fill="#23448a" stroke="#23448a" stroke-width="0.3" stroke-linejoin="round"/>
<path d="M176.13 297.00 V301.90" stroke="#23448a" stroke-width="1.25"/>
<path d="M173.53 300.40 L176.13 305.80 L178.73 300.40 L176.13 301.70 Z" fill="#23448a" stroke="#23448a" stroke-width="0.3" stroke-linejoin="round"/>
<path d="M192.91 297.00 V301.90" stroke="#23448a" stroke-width="1.25"/>
<path d="M190.31 300.40 L192.91 305.80 L195.51 300.40 L192.91 301.70 Z" fill="#23448a" stroke="#23448a" stroke-width="0.3" stroke-linejoin="round"/>
<path d="M209.69 297.00 V301.90" stroke="#23448a" stroke-width="1.25"/>
<path d="M207.09 300.40 L209.69 305.80 L212.29 300.40 L209.69 301.70 Z" fill="#23448a" stroke="#23448a" stroke-width="0.3" stroke-linejoin="round"/>
<path d="M235.38 297.00 V301.90" stroke="#23448a" stroke-width="1.25"/>
<path d="M232.78 300.40 L235.38 305.80 L237.98 300.40 L235.38 301.70 Z" fill="#23448a" stroke="#23448a" stroke-width="0.3" stroke-linejoin="round"/>
<path d="M252.34 297.00 V301.90" stroke="#23448a" stroke-width="1.25"/>
<path d="M249.74 300.40 L252.34 305.80 L254.94 300.40 L252.34 301.70 Z" fill="#23448a" stroke="#23448a" stroke-width="0.3" stroke-linejoin="round"/>
<path d="M269.30 297.00 V301.90" stroke="#23448a" stroke-width="1.25"/>
<path d="M266.70 300.40 L269.30 305.80 L271.90 300.40 L269.30 301.70 Z" fill="#23448a" stroke="#23448a" stroke-width="0.3" stroke-linejoin="round"/>
<path d="M109.01 287.00 V291.90" stroke="#5fae3e" stroke-width="1.25"/>
<path d="M106.41 290.40 L109.01 295.80 L111.61 290.40 L109.01 291.70 Z" fill="#5fae3e" stroke="#5fae3e" stroke-width="0.3" stroke-linejoin="round"/>
<path d="M167.74 287.00 V291.90" stroke="#5fae3e" stroke-width="1.25"/>
<path d="M165.14 290.40 L167.74 295.80 L170.34 290.40 L167.74 291.70 Z" fill="#5fae3e" stroke="#5fae3e" stroke-width="0.3" stroke-linejoin="round"/>
<path d="M226.90 287.00 V291.90" stroke="#5fae3e" stroke-width="1.25"/>
<path d="M224.30 290.40 L226.90 295.80 L229.50 290.40 L226.90 291.70 Z" fill="#5fae3e" stroke="#5fae3e" stroke-width="0.3" stroke-linejoin="round"/>
<path d="M286.26 287.00 V291.90" stroke="#5fae3e" stroke-width="1.25"/>
<path d="M283.66 290.40 L286.26 295.80 L288.86 290.40 L286.26 291.70 Z" fill="#5fae3e" stroke="#5fae3e" stroke-width="0.3" stroke-linejoin="round"/>
<text x="296.90" y="293.60" font-size="7.9" text-anchor="start" fill="#5fae3e" stroke="#5fae3e" stroke-width="0.18" textLength="25.6" lengthAdjust="spacingAndGlyphs" >Imaging</text>
<text x="296.90" y="303.60" font-size="7.9" text-anchor="start" fill="#23448a" stroke="#23448a" stroke-width="0.18" textLength="15.2" lengthAdjust="spacingAndGlyphs" >DAC</text>
<text x="296.90" y="314.00" font-size="7.9" text-anchor="start" fill="#ae1338" stroke="#ae1338" stroke-width="0.18" textLength="28.2" lengthAdjust="spacingAndGlyphs" >PTC299</text>
<text x="7.30" y="373.40" font-size="11.6" text-anchor="start" fill="#000" font-weight="bold" stroke="#000" stroke-width="0.3">D</text>
<defs>
<path id="msil" d="M0,0 C1.2,0.4 1.8,1.8 2.3,3.2 C2.9,4.6 3.8,5.6 3.9,7.6 C4.0,9.6 3.8,11.4 3.8,13 C3.8,14.6 5.0,15.8 5.5,17.4 C6.0,19.2 5.9,21.6 4.9,22.9 C3.7,23.9 1.8,24.1 0,24.1 C-1.8,24.1 -3.7,23.9 -4.9,22.9 C-5.9,21.6 -6.0,19.2 -5.5,17.4 C-5.0,15.8 -3.8,14.6 -3.8,13 C-3.8,11.4 -4.0,9.6 -3.9,7.6 C-3.8,5.6 -2.9,4.6 -2.3,3.2 C-1.8,1.8 -1.2,0.4 0,0 Z"/>
<clipPath id="mclip"><use href="#msil"/></clipPath>
<radialGradient id="gh5" cx="0.5" cy="0.5" r="0.5"><stop offset="0" stop-color="#e01a0c" stop-opacity="1"/><stop offset="0.6" stop-color="#e4200c" stop-opacity="1"/><stop offset="0.72" stop-color="#f0a010" stop-opacity="1"/><stop offset="0.8" stop-color="#e0e020" stop-opacity="1"/><stop offset="0.87" stop-color="#40c050" stop-opacity="1"/><stop offset="0.94" stop-color="#1a98e0" stop-opacity="1"/><stop offset="1" stop-color="#2838c4" stop-opacity="0"/></radialGradient>
<radialGradient id="gh4" cx="0.5" cy="0.5" r="0.5"><stop offset="0" stop-color="#e01a0c" stop-opacity="1"/><stop offset="0.48" stop-color="#e4200c" stop-opacity="1"/><stop offset="0.62" stop-color="#f0a010" stop-opacity="1"/><stop offset="0.72" stop-color="#e0e020" stop-opacity="1"/><stop offset="0.82" stop-color="#40c050" stop-opacity="1"/><stop offset="0.92" stop-color="#1a98e0" stop-opacity="1"/><stop offset="1" stop-color="#2838c4" stop-opacity="0"/></radialGradient>
<radialGradient id="gh3" cx="0.5" cy="0.5" r="0.5"><stop offset="0" stop-color="#e01a0c" stop-opacity="1"/><stop offset="0.3" stop-color="#e4280c" stop-opacity="1"/><stop offset="0.46" stop-color="#f0b010" stop-opacity="1"/><stop offset="0.6" stop-color="#d0e020" stop-opacity="1"/><stop offset="0.75" stop-color="#40c060" stop-opacity="1"/><stop offset="0.9" stop-color="#1a90e0" stop-opacity="1"/><stop offset="1" stop-color="#2838c4" stop-opacity="0"/></radialGradient>
<radialGradient id="gh2r" cx="0.5" cy="0.5" r="0.5"><stop offset="0" stop-color="#e01a0c" stop-opacity="1"/><stop offset="0.18" stop-color="#e83a0c" stop-opacity="1"/><stop offset="0.34" stop-color="#e8d020" stop-opacity="1"/><stop offset="0.52" stop-color="#50c060" stop-opacity="1"/><stop offset="0.74" stop-color="#1a90e0" stop-opacity="1"/><stop offset="1" stop-color="#2838c4" stop-opacity="0"/></radialGradient>
<radialGradient id="gh2" cx="0.5" cy="0.5" r="0.5"><stop offset="0" stop-color="#e8d820" stop-opacity="1"/><stop offset="0.3" stop-color="#a0d030" stop-opacity="1"/><stop offset="0.55" stop-color="#40c070" stop-opacity="1"/><stop offset="0.8" stop-color="#1a90e0" stop-opacity="1"/><stop offset="1" stop-color="#2838c4" stop-opacity="0"/></radialGradient>
<radialGradient id="gh1" cx="0.5" cy="0.5" r="0.5"><stop offset="0" stop-color="#40c0a0" stop-opacity="1"/><stop offset="0.45" stop-color="#2aa0e0" stop-opacity="1"/><stop offset="1" stop-color="#2838c4" stop-opacity="0"/></radialGradient>
<radialGradient id="gh0" cx="0.5" cy="0.5" r="0.5"><stop offset="0" stop-color="#3070e8" stop-opacity="0.9"/><stop offset="1" stop-color="#2838c4" stop-opacity="0"/></radialGradient>
<linearGradient id="cbar" x1="0" y1="0" x2="0" y2="1"><stop offset="0" stop-color="#a01010"/><stop offset="0.08" stop-color="#e02010"/><stop offset="0.2" stop-color="#f08010"/><stop offset="0.3" stop-color="#f0e020"/><stop offset="0.45" stop-color="#80c030"/><stop offset="0.58" stop-color="#30b060"/><stop offset="0.7" stop-color="#20a0d0"/><stop offset="0.82" stop-color="#1050d0"/><stop offset="0.92" stop-color="#2030a0"/><stop offset="1" stop-color="#402080"/></linearGradient>
</defs>
<text x="53.30" y="396.80" font-size="9.9" text-anchor="middle" fill="#1c1c1c" stroke="#1c1c1c" stroke-width="0.18" textLength="30" lengthAdjust="spacingAndGlyphs" >Vehicle</text>
<text x="125.00" y="396.80" font-size="9.9" text-anchor="middle" fill="#1c1c1c" stroke="#1c1c1c" stroke-width="0.18" textLength="35.4" lengthAdjust="spacingAndGlyphs" >PTC299</text>
<text x="195.50" y="396.80" font-size="9.9" text-anchor="middle" fill="#1c1c1c" stroke="#1c1c1c" stroke-width="0.18" textLength="20.6" lengthAdjust="spacingAndGlyphs" >DAC</text>
<text x="267.10" y="396.80" font-size="9.9" text-anchor="middle" fill="#1c1c1c" stroke="#1c1c1c" stroke-width="0.18" textLength="63.2" lengthAdjust="spacingAndGlyphs" >PTC299+DAC</text>
<rect x="26.90" y="402.70" width="52.7" height="35.00" fill="#161616"/>
<g transform="translate(33.50 404.70)"><path d="M0,22 V33.00" stroke="#909090" stroke-width="1.2"/><path d="M-4.2,21.5 L-6.4,25.2 M4.2,21.5 L6.8,24.8" stroke="#7a6ab8" stroke-width="1.0"/><use href="#msil" fill="#2434c0" stroke="#5a44b8" stroke-width="0.8"/><g clip-path="url(#mclip)"><ellipse cx="0" cy="0.6" rx="1.2" ry="1.4" fill="#a8a8c8"/><ellipse cx="0" cy="15.4" rx="5.98" ry="3.25" fill="#f0f0f4"/><ellipse cx="0" cy="13.4" rx="5.98" ry="0.91" fill="#7a60c8" opacity="0.5"/><ellipse cx="-3.7" cy="20.0" rx="2.20" ry="2.42" fill="url(#gh1)"/><ellipse cx="3.7" cy="20.0" rx="2.20" ry="2.42" fill="url(#gh1)"/></g></g>
<g transform="translate(46.60 404.70)"><path d="M0,22 V33.00" stroke="#909090" stroke-width="1.2"/><path d="M-4.2,21.5 L-6.4,25.2 M4.2,21.5 L6.8,24.8" stroke="#7a6ab8" stroke-width="1.0"/><use href="#msil" fill="#2434c0" stroke="#5a44b8" stroke-width="0.8"/><g clip-path="url(#mclip)"><ellipse cx="0" cy="0.6" rx="1.2" ry="1.4" fill="#a8a8c8"/><ellipse cx="0" cy="15.4" rx="2.76" ry="1.50" fill="#f0f0f4"/><ellipse cx="0" cy="13.4" rx="2.76" ry="0.42" fill="#7a60c8" opacity="0.5"/><ellipse cx="0" cy="8.2" rx="3.40" ry="4.80" fill="url(#gh3)"/><ellipse cx="-3.7" cy="20.0" rx="4.20" ry="4.62" fill="url(#gh4)"/><ellipse cx="3.7" cy="20.0" rx="4.20" ry="4.62" fill="url(#gh4)"/></g></g>
<g transform="translate(59.70 404.70)"><path d="M0,22 V33.00" stroke="#909090" stroke-width="1.2"/><path d="M-4.2,21.5 L-6.4,25.2 M4.2,21.5 L6.8,24.8" stroke="#7a6ab8" stroke-width="1.0"/><use href="#msil" fill="#2434c0" stroke="#5a44b8" stroke-width="0.8"/><g clip-path="url(#mclip)"><ellipse cx="0" cy="0.6" rx="1.2" ry="1.4" fill="#a8a8c8"/><ellipse cx="0" cy="15.4" rx="1.84" ry="1.00" fill="#f0f0f4"/><ellipse cx="0" cy="13.4" rx="1.84" ry="0.28" fill="#7a60c8" opacity="0.5"/><ellipse cx="0" cy="8.2" rx="4.08" ry="5.76" fill="url(#gh4)"/><ellipse cx="-3.7" cy="20.0" rx="4.20" ry="4.62" fill="url(#gh4)"/><ellipse cx="3.7" cy="20.0" rx="4.20" ry="4.62" fill="url(#gh4)"/></g></g>
<g transform="translate(72.80 404.70)"><path d="M0,22 V33.00" stroke="#909090" stroke-width="1.2"/><path d="M-4.2,21.5 L-6.4,25.2 M4.2,21.5 L6.8,24.8" stroke="#7a6ab8" stroke-width="1.0"/><use href="#msil" fill="#2434c0" stroke="#5a44b8" stroke-width="0.8"/><g clip-path="url(#mclip)"><ellipse cx="0" cy="0.6" rx="1.2" ry="1.4" fill="#a8a8c8"/><ellipse cx="0" cy="8.2" rx="4.93" ry="6.96" fill="url(#gh5)"/><ellipse cx="0" cy="19.8" rx="7.00" ry="5.04" fill="url(#gh5)"/></g></g>
<text x="24.70" y="422.90" font-size="7.8" text-anchor="end" fill="#1c1c1c" stroke="#1c1c1c" stroke-width="0.18" >#6</text>
<rect x="26.90" y="441.90" width="52.7" height="34.90" fill="#161616"/>
<g transform="translate(33.50 443.90)"><path d="M0,22 V32.90" stroke="#909090" stroke-width="1.2"/><path d="M-4.2,21.5 L-6.4,25.2 M4.2,21.5 L6.8,24.8" stroke="#7a6ab8" stroke-width="1.0"/><use href="#msil" fill="#eeeeee" stroke="#8a8a9a" stroke-width="0.5"/><g clip-path="url(#mclip)"><ellipse cx="0" cy="1.8" rx="1.6" ry="2.2" fill="#a8a8a8"/><path d="M-2.6,5.5 L2.6,5.5 L1.2,8.2 L2.4,10.6 L-2.4,10.6 L-1.2,8.2 Z" fill="#4a3ec8"/><ellipse cx="-4.4" cy="20.2" rx="2.6" ry="2.6" fill="#3038c8"/><ellipse cx="4.4" cy="20.2" rx="2.6" ry="2.6" fill="#3038c8"/><ellipse cx="0" cy="23.2" rx="2" ry="1.2" fill="#6a50c0"/></g></g>
<g transform="translate(46.60 443.90)"><path d="M0,22 V32.90" stroke="#909090" stroke-width="1.2"/><path d="M-4.2,21.5 L-6.4,25.2 M4.2,21.5 L6.8,24.8" stroke="#7a6ab8" stroke-width="1.0"/><use href="#msil" fill="#2434c0" stroke="#5a44b8" stroke-width="0.8"/><g clip-path="url(#mclip)"><ellipse cx="0" cy="0.6" rx="1.2" ry="1.4" fill="#a8a8c8"/><ellipse cx="0" cy="15.4" rx="1.38" ry="0.75" fill="#f0f0f4"/><ellipse cx="0" cy="13.4" rx="1.38" ry="0.21" fill="#7a60c8" opacity="0.5"/><ellipse cx="0" cy="8.2" rx="4.08" ry="5.76" fill="url(#gh4)"/><ellipse cx="-3.7" cy="20.0" rx="4.20" ry="4.62" fill="url(#gh4)"/><ellipse cx="3.7" cy="20.0" rx="4.20" ry="4.62" fill="url(#gh4)"/></g></g>
<g transform="translate(59.70 443.90)"><path d="M0,22 V32.90" stroke="#909090" stroke-width="1.2"/><path d="M-4.2,21.5 L-6.4,25.2 M4.2,21.5 L6.8,24.8" stroke="#7a6ab8" stroke-width="1.0"/><use href="#msil" fill="#2434c0" stroke="#5a44b8" stroke-width="0.8"/><g clip-path="url(#mclip)"><ellipse cx="0" cy="0.6" rx="1.2" ry="1.4" fill="#a8a8c8"/><ellipse cx="0" cy="15.4" rx="1.38" ry="0.75" fill="#f0f0f4"/><ellipse cx="0" cy="13.4" rx="1.38" ry="0.21" fill="#7a60c8" opacity="0.5"/><ellipse cx="0" cy="8.2" rx="4.08" ry="5.76" fill="url(#gh4)"/><ellipse cx="-3.7" cy="20.0" rx="4.20" ry="4.62" fill="url(#gh4)"/><ellipse cx="3.7" cy="20.0" rx="4.20" ry="4.62" fill="url(#gh4)"/></g></g>
<g transform="translate(72.80 443.90)"><path d="M0,22 V32.90" stroke="#909090" stroke-width="1.2"/><path d="M-4.2,21.5 L-6.4,25.2 M4.2,21.5 L6.8,24.8" stroke="#7a6ab8" stroke-width="1.0"/><use href="#msil" fill="#2434c0" stroke="#5a44b8" stroke-width="0.8"/><g clip-path="url(#mclip)"><ellipse cx="0" cy="0.6" rx="1.2" ry="1.4" fill="#a8a8c8"/><ellipse cx="0" cy="15.4" rx="0.92" ry="0.50" fill="#f0f0f4"/><ellipse cx="0" cy="13.4" rx="0.92" ry="0.14" fill="#7a60c8" opacity="0.5"/><ellipse cx="0" cy="8.2" rx="4.08" ry="5.76" fill="url(#gh4)"/><ellipse cx="0" cy="19.8" rx="7.00" ry="5.04" fill="url(#gh5)"/></g></g>
<text x="24.70" y="462.05" font-size="7.8" text-anchor="end" fill="#1c1c1c" stroke="#1c1c1c" stroke-width="0.18" >#7</text>
<text x="33.80" y="488.00" font-size="8.4" text-anchor="middle" fill="#1c1c1c" stroke="#1c1c1c" stroke-width="0.18" >0</text>
<text x="46.90" y="488.00" font-size="8.4" text-anchor="middle" fill="#1c1c1c" stroke="#1c1c1c" stroke-width="0.18" >2</text>
<text x="60.00" y="488.00" font-size="8.4" text-anchor="middle" fill="#1c1c1c" stroke="#1c1c1c" stroke-width="0.18" >3</text>
<text x="73.10" y="488.00" font-size="8.4" text-anchor="middle" fill="#1c1c1c" stroke="#1c1c1c" stroke-width="0.18" >6</text>
<rect x="99.10" y="402.70" width="52.7" height="35.00" fill="#161616"/>
<g transform="translate(105.70 404.70)"><path d="M0,22 V33.00" stroke="#909090" stroke-width="1.2"/><path d="M-4.2,21.5 L-6.4,25.2 M4.2,21.5 L6.8,24.8" stroke="#7a6ab8" stroke-width="1.0"/><use href="#msil" fill="#2434c0" stroke="#5a44b8" stroke-width="0.8"/><g clip-path="url(#mclip)"><ellipse cx="0" cy="0.6" rx="1.2" ry="1.4" fill="#a8a8c8"/><ellipse cx="0" cy="15.4" rx="5.98" ry="3.25" fill="#f0f0f4"/><ellipse cx="0" cy="13.4" rx="5.98" ry="0.91" fill="#7a60c8" opacity="0.5"/><ellipse cx="-3.7" cy="20.0" rx="2.20" ry="2.42" fill="url(#gh1)"/><ellipse cx="3.7" cy="20.0" rx="2.20" ry="2.42" fill="url(#gh1)"/></g></g>
<g transform="translate(118.80 404.70)"><path d="M0,22 V33.00" stroke="#909090" stroke-width="1.2"/><path d="M-4.2,21.5 L-6.4,25.2 M4.2,21.5 L6.8,24.8" stroke="#7a6ab8" stroke-width="1.0"/><use href="#msil" fill="#2434c0" stroke="#5a44b8" stroke-width="0.8"/><g clip-path="url(#mclip)"><ellipse cx="0" cy="0.6" rx="1.2" ry="1.4" fill="#a8a8c8"/><ellipse cx="0" cy="15.4" rx="4.60" ry="2.50" fill="#f0f0f4"/><ellipse cx="0" cy="13.4" rx="4.60" ry="0.70" fill="#7a60c8" opacity="0.5"/><ellipse cx="0" cy="8.2" rx="2.80" ry="3.96" fill="url(#gh2)"/><ellipse cx="-3.7" cy="20.0" rx="3.40" ry="3.74" fill="url(#gh3)"/><ellipse cx="3.7" cy="20.0" rx="3.40" ry="3.74" fill="url(#gh3)"/></g></g>
<g transform="translate(131.90 404.70)"><path d="M0,22 V33.00" stroke="#909090" stroke-width="1.2"/><path d="M-4.2,21.5 L-6.4,25.2 M4.2,21.5 L6.8,24.8" stroke="#7a6ab8" stroke-width="1.0"/><use href="#msil" fill="#2434c0" stroke="#5a44b8" stroke-width="0.8"/><g clip-path="url(#mclip)"><ellipse cx="0" cy="0.6" rx="1.2" ry="1.4" fill="#a8a8c8"/><ellipse cx="0" cy="15.4" rx="1.38" ry="0.75" fill="#f0f0f4"/><ellipse cx="0" cy="13.4" rx="1.38" ry="0.21" fill="#7a60c8" opacity="0.5"/><ellipse cx="0" cy="8.2" rx="3.40" ry="4.80" fill="url(#gh3)"/><ellipse cx="-3.7" cy="20.0" rx="4.20" ry="4.62" fill="url(#gh4)"/><ellipse cx="3.7" cy="20.0" rx="4.20" ry="4.62" fill="url(#gh4)"/></g></g>
<g transform="translate(145.00 404.70)"><path d="M0,22 V33.00" stroke="#909090" stroke-width="1.2"/><path d="M-4.2,21.5 L-6.4,25.2 M4.2,21.5 L6.8,24.8" stroke="#7a6ab8" stroke-width="1.0"/><use href="#msil" fill="#2434c0" stroke="#5a44b8" stroke-width="0.8"/><g clip-path="url(#mclip)"><ellipse cx="0" cy="0.6" rx="1.2" ry="1.4" fill="#a8a8c8"/><ellipse cx="0" cy="15.4" rx="1.38" ry="0.75" fill="#f0f0f4"/><ellipse cx="0" cy="13.4" rx="1.38" ry="0.21" fill="#7a60c8" opacity="0.5"/><ellipse cx="0" cy="8.2" rx="3.40" ry="4.80" fill="url(#gh3)"/><ellipse cx="-3.7" cy="20.0" rx="4.20" ry="4.62" fill="url(#gh4)"/><ellipse cx="3.7" cy="20.0" rx="4.20" ry="4.62" fill="url(#gh4)"/></g></g>
<text x="96.90" y="422.90" font-size="7.8" text-anchor="end" fill="#1c1c1c" stroke="#1c1c1c" stroke-width="0.18" >#16</text>
<rect x="99.10" y="441.90" width="52.7" height="34.90" fill="#161616"/>
<g transform="translate(105.70 443.90)"><path d="M0,22 V32.90" stroke="#909090" stroke-width="1.2"/><path d="M-4.2,21.5 L-6.4,25.2 M4.2,21.5 L6.8,24.8" stroke="#7a6ab8" stroke-width="1.0"/><use href="#msil" fill="#eeeeee" stroke="#8a8a9a" stroke-width="0.5"/><g clip-path="url(#mclip)"><ellipse cx="0" cy="1.8" rx="1.6" ry="2.2" fill="#a8a8a8"/><path d="M-2.6,5.5 L2.6,5.5 L1.2,8.2 L2.4,10.6 L-2.4,10.6 L-1.2,8.2 Z" fill="#4a3ec8"/><ellipse cx="-4.4" cy="20.2" rx="2.6" ry="2.6" fill="#3038c8"/><ellipse cx="4.4" cy="20.2" rx="2.6" ry="2.6" fill="#3038c8"/><ellipse cx="0" cy="23.2" rx="2" ry="1.2" fill="#6a50c0"/></g></g>
<g transform="translate(118.80 443.90)"><path d="M0,22 V32.90" stroke="#909090" stroke-width="1.2"/><path d="M-4.2,21.5 L-6.4,25.2 M4.2,21.5 L6.8,24.8" stroke="#7a6ab8" stroke-width="1.0"/><use href="#msil" fill="#2434c0" stroke="#5a44b8" stroke-width="0.8"/><g clip-path="url(#mclip)"><ellipse cx="0" cy="0.6" rx="1.2" ry="1.4" fill="#a8a8c8"/><ellipse cx="0" cy="15.4" rx="4.60" ry="2.50" fill="#f0f0f4"/><ellipse cx="0" cy="13.4" rx="4.60" ry="0.70" fill="#7a60c8" opacity="0.5"/><ellipse cx="0" cy="8.2" rx="2.80" ry="3.96" fill="url(#gh2)"/><ellipse cx="-3.7" cy="20.0" rx="3.40" ry="3.74" fill="url(#gh3)"/><ellipse cx="3.7" cy="20.0" rx="3.40" ry="3.74" fill="url(#gh3)"/></g></g>
<g transform="translate(131.90 443.90)"><path d="M0,22 V32.90" stroke="#909090" stroke-width="1.2"/><path d="M-4.2,21.5 L-6.4,25.2 M4.2,21.5 L6.8,24.8" stroke="#7a6ab8" stroke-width="1.0"/><use href="#msil" fill="#2434c0" stroke="#5a44b8" stroke-width="0.8"/><g clip-path="url(#mclip)"><ellipse cx="0" cy="0.6" rx="1.2" ry="1.4" fill="#a8a8c8"/><ellipse cx="0" cy="15.4" rx="2.30" ry="1.25" fill="#f0f0f4"/><ellipse cx="0" cy="13.4" rx="2.30" ry="0.35" fill="#7a60c8" opacity="0.5"/><ellipse cx="0" cy="8.2" rx="3.40" ry="4.80" fill="url(#gh3)"/><ellipse cx="-3.7" cy="20.0" rx="3.40" ry="3.74" fill="url(#gh3)"/><ellipse cx="3.7" cy="20.0" rx="3.40" ry="3.74" fill="url(#gh3)"/></g></g>
<g transform="translate(145.00 443.90)"><path d="M0,22 V32.90" stroke="#909090" stroke-width="1.2"/><path d="M-4.2,21.5 L-6.4,25.2 M4.2,21.5 L6.8,24.8" stroke="#7a6ab8" stroke-width="1.0"/><use href="#msil" fill="#2434c0" stroke="#5a44b8" stroke-width="0.8"/><g clip-path="url(#mclip)"><ellipse cx="0" cy="0.6" rx="1.2" ry="1.4" fill="#a8a8c8"/><ellipse cx="0" cy="15.4" rx="2.30" ry="1.25" fill="#f0f0f4"/><ellipse cx="0" cy="13.4" rx="2.30" ry="0.35" fill="#7a60c8" opacity="0.5"/><ellipse cx="0" cy="8.2" rx="3.40" ry="4.80" fill="url(#gh3)"/><ellipse cx="-3.7" cy="20.0" rx="3.40" ry="3.74" fill="url(#gh3)"/><ellipse cx="3.7" cy="20.0" rx="3.40" ry="3.74" fill="url(#gh3)"/></g></g>
<text x="96.90" y="462.05" font-size="7.8" text-anchor="end" fill="#1c1c1c" stroke="#1c1c1c" stroke-width="0.18" >#19</text>
<text x="106.00" y="488.00" font-size="8.4" text-anchor="middle" fill="#1c1c1c" stroke="#1c1c1c" stroke-width="0.18" >0</text>
<text x="119.10" y="488.00" font-size="8.4" text-anchor="middle" fill="#1c1c1c" stroke="#1c1c1c" stroke-width="0.18" >2</text>
<text x="132.20" y="488.00" font-size="8.4" text-anchor="middle" fill="#1c1c1c" stroke="#1c1c1c" stroke-width="0.18" >3</text>
<text x="145.30" y="488.00" font-size="8.4" text-anchor="middle" fill="#1c1c1c" stroke="#1c1c1c" stroke-width="0.18" >6</text>
<rect x="169.50" y="402.70" width="52.7" height="35.00" fill="#161616"/>
<g transform="translate(176.10 404.70)"><path d="M0,22 V33.00" stroke="#909090" stroke-width="1.2"/><path d="M-4.2,21.5 L-6.4,25.2 M4.2,21.5 L6.8,24.8" stroke="#7a6ab8" stroke-width="1.0"/><use href="#msil" fill="#2434c0" stroke="#5a44b8" stroke-width="0.8"/><g clip-path="url(#mclip)"><ellipse cx="0" cy="0.6" rx="1.2" ry="1.4" fill="#a8a8c8"/><ellipse cx="0" cy="15.4" rx="5.98" ry="3.25" fill="#f0f0f4"/><ellipse cx="0" cy="13.4" rx="5.98" ry="0.91" fill="#7a60c8" opacity="0.5"/><ellipse cx="-3.7" cy="20.0" rx="2.20" ry="2.42" fill="url(#gh1)"/><ellipse cx="3.7" cy="20.0" rx="2.20" ry="2.42" fill="url(#gh1)"/></g></g>
<g transform="translate(189.20 404.70)"><path d="M0,22 V33.00" stroke="#909090" stroke-width="1.2"/><path d="M-4.2,21.5 L-6.4,25.2 M4.2,21.5 L6.8,24.8" stroke="#7a6ab8" stroke-width="1.0"/><use href="#msil" fill="#2434c0" stroke="#5a44b8" stroke-width="0.8"/><g clip-path="url(#mclip)"><ellipse cx="0" cy="0.6" rx="1.2" ry="1.4" fill="#a8a8c8"/><ellipse cx="0" cy="15.4" rx="5.52" ry="3.00" fill="#f0f0f4"/><ellipse cx="0" cy="13.4" rx="5.52" ry="0.84" fill="#7a60c8" opacity="0.5"/><ellipse cx="0" cy="8.2" rx="2.38" ry="3.36" fill="url(#gh1)"/><ellipse cx="-3.7" cy="20.0" rx="2.70" ry="2.97" fill="url(#gh2r)"/><ellipse cx="3.7" cy="20.0" rx="2.70" ry="2.97" fill="url(#gh2r)"/></g></g>
<g transform="translate(202.30 404.70)"><path d="M0,22 V33.00" stroke="#909090" stroke-width="1.2"/><path d="M-4.2,21.5 L-6.4,25.2 M4.2,21.5 L6.8,24.8" stroke="#7a6ab8" stroke-width="1.0"/><use href="#msil" fill="#2434c0" stroke="#5a44b8" stroke-width="0.8"/><g clip-path="url(#mclip)"><ellipse cx="0" cy="0.6" rx="1.2" ry="1.4" fill="#a8a8c8"/><ellipse cx="0" cy="15.4" rx="5.52" ry="3.00" fill="#f0f0f4"/><ellipse cx="0" cy="13.4" rx="5.52" ry="0.84" fill="#7a60c8" opacity="0.5"/><ellipse cx="0" cy="8.2" rx="2.38" ry="3.36" fill="url(#gh1)"/><ellipse cx="-3.7" cy="20.0" rx="2.70" ry="2.97" fill="url(#gh2r)"/><ellipse cx="3.7" cy="20.0" rx="2.70" ry="2.97" fill="url(#gh2r)"/></g></g>
<g transform="translate(215.40 404.70)"><path d="M0,22 V33.00" stroke="#909090" stroke-width="1.2"/><path d="M-4.2,21.5 L-6.4,25.2 M4.2,21.5 L6.8,24.8" stroke="#7a6ab8" stroke-width="1.0"/><use href="#msil" fill="#2434c0" stroke="#5a44b8" stroke-width="0.8"/><g clip-path="url(#mclip)"><ellipse cx="0" cy="0.6" rx="1.2" ry="1.4" fill="#a8a8c8"/><ellipse cx="0" cy="15.4" rx="3.68" ry="2.00" fill="#f0f0f4"/><ellipse cx="0" cy="13.4" rx="3.68" ry="0.56" fill="#7a60c8" opacity="0.5"/><ellipse cx="0" cy="8.2" rx="2.80" ry="3.96" fill="url(#gh2)"/><ellipse cx="-3.7" cy="20.0" rx="4.20" ry="4.62" fill="url(#gh4)"/><ellipse cx="3.7" cy="20.0" rx="4.20" ry="4.62" fill="url(#gh4)"/></g></g>
<text x="167.30" y="422.90" font-size="7.8" text-anchor="end" fill="#1c1c1c" stroke="#1c1c1c" stroke-width="0.18" >#12</text>
<rect x="169.50" y="441.90" width="52.7" height="34.90" fill="#161616"/>
<g transform="translate(176.10 443.90)"><path d="M0,22 V32.90" stroke="#909090" stroke-width="1.2"/><path d="M-4.2,21.5 L-6.4,25.2 M4.2,21.5 L6.8,24.8" stroke="#7a6ab8" stroke-width="1.0"/><use href="#msil" fill="#eeeeee" stroke="#8a8a9a" stroke-width="0.5"/><g clip-path="url(#mclip)"><ellipse cx="0" cy="1.8" rx="1.6" ry="2.2" fill="#a8a8a8"/><path d="M-2.6,5.5 L2.6,5.5 L1.2,8.2 L2.4,10.6 L-2.4,10.6 L-1.2,8.2 Z" fill="#4a3ec8"/><ellipse cx="-4.4" cy="20.2" rx="2.6" ry="2.6" fill="#3038c8"/><ellipse cx="4.4" cy="20.2" rx="2.6" ry="2.6" fill="#3038c8"/><ellipse cx="0" cy="23.2" rx="2" ry="1.2" fill="#6a50c0"/></g></g>
<g transform="translate(189.20 443.90)"><path d="M0,22 V32.90" stroke="#909090" stroke-width="1.2"/><path d="M-4.2,21.5 L-6.4,25.2 M4.2,21.5 L6.8,24.8" stroke="#7a6ab8" stroke-width="1.0"/><use href="#msil" fill="#2434c0" stroke="#5a44b8" stroke-width="0.8"/><g clip-path="url(#mclip)"><ellipse cx="0" cy="0.6" rx="1.2" ry="1.4" fill="#a8a8c8"/><ellipse cx="0" cy="15.4" rx="3.22" ry="1.75" fill="#f0f0f4"/><ellipse cx="0" cy="13.4" rx="3.22" ry="0.49" fill="#7a60c8" opacity="0.5"/><ellipse cx="0" cy="8.2" rx="3.40" ry="4.80" fill="url(#gh3)"/><ellipse cx="-3.7" cy="20.0" rx="3.40" ry="3.74" fill="url(#gh3)"/><ellipse cx="3.7" cy="20.0" rx="3.40" ry="3.74" fill="url(#gh3)"/></g></g>
<g transform="translate(202.30 443.90)"><path d="M0,22 V32.90" stroke="#909090" stroke-width="1.2"/><path d="M-4.2,21.5 L-6.4,25.2 M4.2,21.5 L6.8,24.8" stroke="#7a6ab8" stroke-width="1.0"/><use href="#msil" fill="#2434c0" stroke="#5a44b8" stroke-width="0.8"/><g clip-path="url(#mclip)"><ellipse cx="0" cy="0.6" rx="1.2" ry="1.4" fill="#a8a8c8"/><ellipse cx="0" cy="15.4" rx="3.22" ry="1.75" fill="#f0f0f4"/><ellipse cx="0" cy="13.4" rx="3.22" ry="0.49" fill="#7a60c8" opacity="0.5"/><ellipse cx="0" cy="8.2" rx="3.40" ry="4.80" fill="url(#gh3)"/><ellipse cx="-3.7" cy="20.0" rx="3.40" ry="3.74" fill="url(#gh3)"/><ellipse cx="3.7" cy="20.0" rx="3.40" ry="3.74" fill="url(#gh3)"/></g></g>
<g transform="translate(215.40 443.90)"><path d="M0,22 V32.90" stroke="#909090" stroke-width="1.2"/><path d="M-4.2,21.5 L-6.4,25.2 M4.2,21.5 L6.8,24.8" stroke="#7a6ab8" stroke-width="1.0"/><use href="#msil" fill="#2434c0" stroke="#5a44b8" stroke-width="0.8"/><g clip-path="url(#mclip)"><ellipse cx="0" cy="0.6" rx="1.2" ry="1.4" fill="#a8a8c8"/><ellipse cx="0" cy="15.4" rx="2.76" ry="1.50" fill="#f0f0f4"/><ellipse cx="0" cy="13.4" rx="2.76" ry="0.42" fill="#7a60c8" opacity="0.5"/><ellipse cx="0" cy="8.2" rx="2.80" ry="3.96" fill="url(#gh2)"/><ellipse cx="-3.7" cy="20.0" rx="3.40" ry="3.74" fill="url(#gh3)"/><ellipse cx="3.7" cy="20.0" rx="3.40" ry="3.74" fill="url(#gh3)"/></g></g>
<text x="167.30" y="462.05" font-size="7.8" text-anchor="end" fill="#1c1c1c" stroke="#1c1c1c" stroke-width="0.18" >#13</text>
<text x="176.40" y="488.00" font-size="8.4" text-anchor="middle" fill="#1c1c1c" stroke="#1c1c1c" stroke-width="0.18" >0</text>
<text x="189.50" y="488.00" font-size="8.4" text-anchor="middle" fill="#1c1c1c" stroke="#1c1c1c" stroke-width="0.18" >2</text>
<text x="202.60" y="488.00" font-size="8.4" text-anchor="middle" fill="#1c1c1c" stroke="#1c1c1c" stroke-width="0.18" >3</text>
<text x="215.70" y="488.00" font-size="8.4" text-anchor="middle" fill="#1c1c1c" stroke="#1c1c1c" stroke-width="0.18" >6</text>
<rect x="241.30" y="402.70" width="52.7" height="35.00" fill="#161616"/>
<g transform="translate(247.90 404.70)"><path d="M0,22 V33.00" stroke="#909090" stroke-width="1.2"/><path d="M-4.2,21.5 L-6.4,25.2 M4.2,21.5 L6.8,24.8" stroke="#7a6ab8" stroke-width="1.0"/><use href="#msil" fill="#eeeeee" stroke="#8a8a9a" stroke-width="0.5"/><g clip-path="url(#mclip)"><ellipse cx="0" cy="1.8" rx="1.6" ry="2.2" fill="#a8a8a8"/><path d="M-2.6,5.5 L2.6,5.5 L1.2,8.2 L2.4,10.6 L-2.4,10.6 L-1.2,8.2 Z" fill="#4a3ec8"/><ellipse cx="-4.4" cy="20.2" rx="2.6" ry="2.6" fill="#3038c8"/><ellipse cx="4.4" cy="20.2" rx="2.6" ry="2.6" fill="#3038c8"/><ellipse cx="0" cy="23.2" rx="2" ry="1.2" fill="#6a50c0"/></g></g>
<g transform="translate(261.00 404.70)"><path d="M0,22 V33.00" stroke="#909090" stroke-width="1.2"/><path d="M-4.2,21.5 L-6.4,25.2 M4.2,21.5 L6.8,24.8" stroke="#7a6ab8" stroke-width="1.0"/><use href="#msil" fill="#2434c0" stroke="#5a44b8" stroke-width="0.8"/><g clip-path="url(#mclip)"><ellipse cx="0" cy="0.6" rx="1.2" ry="1.4" fill="#a8a8c8"/><ellipse cx="0" cy="15.4" rx="5.52" ry="3.00" fill="#f0f0f4"/><ellipse cx="0" cy="13.4" rx="5.52" ry="0.84" fill="#7a60c8" opacity="0.5"/><ellipse cx="0" cy="8.2" rx="2.80" ry="3.96" fill="url(#gh2)"/><ellipse cx="-3.7" cy="20.0" rx="2.70" ry="2.97" fill="url(#gh2r)"/><ellipse cx="3.7" cy="20.0" rx="2.70" ry="2.97" fill="url(#gh2r)"/></g></g>
<g transform="translate(274.10 404.70)"><path d="M0,22 V33.00" stroke="#909090" stroke-width="1.2"/><path d="M-4.2,21.5 L-6.4,25.2 M4.2,21.5 L6.8,24.8" stroke="#7a6ab8" stroke-width="1.0"/><use href="#msil" fill="#2434c0" stroke="#5a44b8" stroke-width="0.8"/><g clip-path="url(#mclip)"><ellipse cx="0" cy="0.6" rx="1.2" ry="1.4" fill="#a8a8c8"/><ellipse cx="0" cy="15.4" rx="5.52" ry="3.00" fill="#f0f0f4"/><ellipse cx="0" cy="13.4" rx="5.52" ry="0.84" fill="#7a60c8" opacity="0.5"/><ellipse cx="0" cy="8.2" rx="2.80" ry="3.96" fill="url(#gh2)"/><ellipse cx="-3.7" cy="20.0" rx="2.70" ry="2.97" fill="url(#gh2r)"/><ellipse cx="3.7" cy="20.0" rx="2.70" ry="2.97" fill="url(#gh2r)"/></g></g>
<g transform="translate(287.20 404.70)"><path d="M0,22 V33.00" stroke="#909090" stroke-width="1.2"/><path d="M-4.2,21.5 L-6.4,25.2 M4.2,21.5 L6.8,24.8" stroke="#7a6ab8" stroke-width="1.0"/><use href="#msil" fill="#2434c0" stroke="#5a44b8" stroke-width="0.8"/><g clip-path="url(#mclip)"><ellipse cx="0" cy="0.6" rx="1.2" ry="1.4" fill="#a8a8c8"/><ellipse cx="0" cy="15.4" rx="5.52" ry="3.00" fill="#f0f0f4"/><ellipse cx="0" cy="13.4" rx="5.52" ry="0.84" fill="#7a60c8" opacity="0.5"/><ellipse cx="0" cy="8.2" rx="2.80" ry="3.96" fill="url(#gh2)"/><ellipse cx="-3.7" cy="20.0" rx="2.70" ry="2.97" fill="url(#gh2r)"/><ellipse cx="3.7" cy="20.0" rx="2.70" ry="2.97" fill="url(#gh2r)"/></g></g>
<text x="239.10" y="422.90" font-size="7.8" text-anchor="end" fill="#1c1c1c" stroke="#1c1c1c" stroke-width="0.18" >#24</text>
<rect x="241.30" y="441.90" width="52.7" height="34.90" fill="#161616"/>
<g transform="translate(247.90 443.90)"><path d="M0,22 V32.90" stroke="#909090" stroke-width="1.2"/><path d="M-4.2,21.5 L-6.4,25.2 M4.2,21.5 L6.8,24.8" stroke="#7a6ab8" stroke-width="1.0"/><use href="#msil" fill="#eeeeee" stroke="#8a8a9a" stroke-width="0.5"/><g clip-path="url(#mclip)"><ellipse cx="0" cy="1.8" rx="1.6" ry="2.2" fill="#a8a8a8"/><path d="M-2.6,5.5 L2.6,5.5 L1.2,8.2 L2.4,10.6 L-2.4,10.6 L-1.2,8.2 Z" fill="#4a3ec8"/><ellipse cx="-4.4" cy="20.2" rx="2.6" ry="2.6" fill="#3038c8"/><ellipse cx="4.4" cy="20.2" rx="2.6" ry="2.6" fill="#3038c8"/><ellipse cx="0" cy="23.2" rx="2" ry="1.2" fill="#6a50c0"/></g></g>
<g transform="translate(261.00 443.90)"><path d="M0,22 V32.90" stroke="#909090" stroke-width="1.2"/><path d="M-4.2,21.5 L-6.4,25.2 M4.2,21.5 L6.8,24.8" stroke="#7a6ab8" stroke-width="1.0"/><use href="#msil" fill="#2434c0" stroke="#5a44b8" stroke-width="0.8"/><g clip-path="url(#mclip)"><ellipse cx="0" cy="0.6" rx="1.2" ry="1.4" fill="#a8a8c8"/><ellipse cx="0" cy="15.4" rx="5.06" ry="2.75" fill="#f0f0f4"/><ellipse cx="0" cy="13.4" rx="5.06" ry="0.77" fill="#7a60c8" opacity="0.5"/><ellipse cx="0" cy="8.2" rx="2.38" ry="3.36" fill="url(#gh1)"/><ellipse cx="-3.7" cy="20.0" rx="2.70" ry="2.97" fill="url(#gh2r)"/><ellipse cx="3.7" cy="20.0" rx="2.70" ry="2.97" fill="url(#gh2r)"/></g></g>
<g transform="translate(274.10 443.90)"><path d="M0,22 V32.90" stroke="#909090" stroke-width="1.2"/><path d="M-4.2,21.5 L-6.4,25.2 M4.2,21.5 L6.8,24.8" stroke="#7a6ab8" stroke-width="1.0"/><use href="#msil" fill="#2434c0" stroke="#5a44b8" stroke-width="0.8"/><g clip-path="url(#mclip)"><ellipse cx="0" cy="0.6" rx="1.2" ry="1.4" fill="#a8a8c8"/><ellipse cx="0" cy="15.4" rx="5.06" ry="2.75" fill="#f0f0f4"/><ellipse cx="0" cy="13.4" rx="5.06" ry="0.77" fill="#7a60c8" opacity="0.5"/><ellipse cx="0" cy="8.2" rx="2.38" ry="3.36" fill="url(#gh2)"/><ellipse cx="-3.7" cy="20.0" rx="2.70" ry="2.97" fill="url(#gh2r)"/><ellipse cx="3.7" cy="20.0" rx="2.70" ry="2.97" fill="url(#gh2r)"/></g></g>
<g transform="translate(287.20 443.90)"><path d="M0,22 V32.90" stroke="#909090" stroke-width="1.2"/><path d="M-4.2,21.5 L-6.4,25.2 M4.2,21.5 L6.8,24.8" stroke="#7a6ab8" stroke-width="1.0"/><use href="#msil" fill="#2434c0" stroke="#5a44b8" stroke-width="0.8"/><g clip-path="url(#mclip)"><ellipse cx="0" cy="0.6" rx="1.2" ry="1.4" fill="#a8a8c8"/><ellipse cx="0" cy="15.4" rx="5.06" ry="2.75" fill="#f0f0f4"/><ellipse cx="0" cy="13.4" rx="5.06" ry="0.77" fill="#7a60c8" opacity="0.5"/><ellipse cx="0" cy="8.2" rx="2.80" ry="3.96" fill="url(#gh2)"/><ellipse cx="-3.7" cy="20.0" rx="2.70" ry="2.97" fill="url(#gh2r)"/><ellipse cx="3.7" cy="20.0" rx="2.70" ry="2.97" fill="url(#gh2r)"/></g></g>
<text x="239.10" y="462.05" font-size="7.8" text-anchor="end" fill="#1c1c1c" stroke="#1c1c1c" stroke-width="0.18" >#27</text>
<text x="248.20" y="488.00" font-size="8.4" text-anchor="middle" fill="#1c1c1c" stroke="#1c1c1c" stroke-width="0.18" >0</text>
<text x="261.30" y="488.00" font-size="8.4" text-anchor="middle" fill="#1c1c1c" stroke="#1c1c1c" stroke-width="0.18" >2</text>
<text x="274.40" y="488.00" font-size="8.4" text-anchor="middle" fill="#1c1c1c" stroke="#1c1c1c" stroke-width="0.18" >3</text>
<text x="287.50" y="488.00" font-size="8.4" text-anchor="middle" fill="#1c1c1c" stroke="#1c1c1c" stroke-width="0.18" >6</text>
<text x="126.40" y="501.10" font-size="9.2" fill="#1c1c1c" stroke="#1c1c1c" stroke-width="0.32" textLength="67.50" lengthAdjust="spacingAndGlyphs">Weeks post-treatment</text>
<rect x="306.3" y="393.2" width="4.4" height="100" fill="url(#cbar)" stroke="#111" stroke-width="0.9"/>
<line x1="310.70" y1="393.90" x2="313.30" y2="393.90" stroke="#1c1c1c" stroke-width="0.9" />
<text x="316.30" y="396.80" font-size="8.3" text-anchor="start" fill="#1c1c1c" stroke="#1c1c1c" stroke-width="0.18" >50</text>
<line x1="310.70" y1="404.30" x2="313.30" y2="404.30" stroke="#1c1c1c" stroke-width="0.9" />
<text x="316.30" y="407.20" font-size="8.3" text-anchor="start" fill="#1c1c1c" stroke="#1c1c1c" stroke-width="0.18" >45</text>
<line x1="310.70" y1="414.70" x2="313.30" y2="414.70" stroke="#1c1c1c" stroke-width="0.9" />
<text x="316.30" y="417.60" font-size="8.3" text-anchor="start" fill="#1c1c1c" stroke="#1c1c1c" stroke-width="0.18" >40</text>
<line x1="310.70" y1="425.10" x2="313.30" y2="425.10" stroke="#1c1c1c" stroke-width="0.9" />
<text x="316.30" y="428.00" font-size="8.3" text-anchor="start" fill="#1c1c1c" stroke="#1c1c1c" stroke-width="0.18" >35</text>
<line x1="310.70" y1="435.50" x2="313.30" y2="435.50" stroke="#1c1c1c" stroke-width="0.9" />
<text x="316.30" y="438.40" font-size="8.3" text-anchor="start" fill="#1c1c1c" stroke="#1c1c1c" stroke-width="0.18" >30</text>
<line x1="310.70" y1="445.90" x2="313.30" y2="445.90" stroke="#1c1c1c" stroke-width="0.9" />
<text x="316.30" y="448.80" font-size="8.3" text-anchor="start" fill="#1c1c1c" stroke="#1c1c1c" stroke-width="0.18" >25</text>
<line x1="310.70" y1="456.30" x2="313.30" y2="456.30" stroke="#1c1c1c" stroke-width="0.9" />
<text x="316.30" y="459.20" font-size="8.3" text-anchor="start" fill="#1c1c1c" stroke="#1c1c1c" stroke-width="0.18" >20</text>
<line x1="310.70" y1="466.70" x2="313.30" y2="466.70" stroke="#1c1c1c" stroke-width="0.9" />
<text x="316.30" y="469.60" font-size="8.3" text-anchor="start" fill="#1c1c1c" stroke="#1c1c1c" stroke-width="0.18" >15</text>
<line x1="310.70" y1="477.10" x2="313.30" y2="477.10" stroke="#1c1c1c" stroke-width="0.9" />
<text x="316.30" y="480.00" font-size="8.3" text-anchor="start" fill="#1c1c1c" stroke="#1c1c1c" stroke-width="0.18" >10</text>
<line x1="310.70" y1="487.50" x2="313.30" y2="487.50" stroke="#1c1c1c" stroke-width="0.9" />
<text x="316.30" y="490.40" font-size="8.3" text-anchor="start" fill="#1c1c1c" stroke="#1c1c1c" stroke-width="0.18" >5</text>
<text x="306.00" y="384.30" font-size="7.9" text-anchor="start" fill="#1c1c1c" stroke="#1c1c1c" stroke-width="0.18" textLength="17.6" lengthAdjust="spacingAndGlyphs" >(×10</text>
<text x="323.90" y="380.90" font-size="5.2" text-anchor="start" fill="#d02030" stroke="#d02030" stroke-width="0.18" >5</text>
<text x="327.00" y="384.30" font-size="7.9" text-anchor="start" fill="#1c1c1c" stroke="#1c1c1c" stroke-width="0.18" >)</text>
<text x="345.20" y="325.30" font-size="11.3" text-anchor="start" fill="#000" font-weight="bold" stroke="#000" stroke-width="0.3">E</text>
<rect x="381.7" y="324.4" width="51.6" height="11.3" fill="#f2b81c"/>
<rect x="433.6" y="324.4" width="51.4" height="11.3" fill="#64a6de"/>
<text x="407.50" y="333.30" font-size="8.4" text-anchor="middle" fill="#000" font-weight="bold" textLength="50.2" lengthAdjust="spacingAndGlyphs" stroke="#000" stroke-width="0.25">Treatment ON</text>
<text x="459.40" y="333.30" font-size="8.4" text-anchor="middle" fill="#000" font-weight="bold" textLength="15.4" lengthAdjust="spacingAndGlyphs" stroke="#000" stroke-width="0.25">OFF</text>
<line x1="381.70" y1="334.00" x2="381.70" y2="491.20" stroke="#1c1c1c" stroke-width="1.2" />
<line x1="381.10" y1="490.90" x2="486.30" y2="490.90" stroke="#1c1c1c" stroke-width="1.2" />
<line x1="378.60" y1="490.50" x2="381.70" y2="490.50" stroke="#1c1c1c" stroke-width="1.0" />
<text x="375.40" y="493.50" font-size="8.6" text-anchor="end" fill="#1c1c1c" stroke="#1c1c1c" stroke-width="0.18" >0</text>
<line x1="378.60" y1="439.05" x2="381.70" y2="439.05" stroke="#1c1c1c" stroke-width="1.0" />
<text x="375.40" y="442.05" font-size="8.6" text-anchor="end" fill="#1c1c1c" stroke="#1c1c1c" stroke-width="0.18" >1</text>
<line x1="378.60" y1="387.60" x2="381.70" y2="387.60" stroke="#1c1c1c" stroke-width="1.0" />
<text x="375.40" y="390.60" font-size="8.6" text-anchor="end" fill="#1c1c1c" stroke="#1c1c1c" stroke-width="0.18" >2</text>
<line x1="378.60" y1="336.15" x2="381.70" y2="336.15" stroke="#1c1c1c" stroke-width="1.0" />
<text x="375.40" y="339.15" font-size="8.6" text-anchor="end" fill="#1c1c1c" stroke="#1c1c1c" stroke-width="0.18" >3</text>
<line x1="381.60" y1="490.90" x2="381.60" y2="493.80" stroke="#1c1c1c" stroke-width="1.0" />
<line x1="398.60" y1="490.90" x2="398.60" y2="493.80" stroke="#1c1c1c" stroke-width="1.0" />
<line x1="415.60" y1="490.90" x2="415.60" y2="493.80" stroke="#1c1c1c" stroke-width="1.0" />
<line x1="432.60" y1="490.90" x2="432.60" y2="493.80" stroke="#1c1c1c" stroke-width="1.0" />
<line x1="449.60" y1="490.90" x2="449.60" y2="493.80" stroke="#1c1c1c" stroke-width="1.0" />
<line x1="466.60" y1="490.90" x2="466.60" y2="493.80" stroke="#1c1c1c" stroke-width="1.0" />
<line x1="483.60" y1="490.90" x2="483.60" y2="493.80" stroke="#1c1c1c" stroke-width="1.0" />
<text x="381.60" y="505.00" font-size="8.6" text-anchor="middle" fill="#1c1c1c" stroke="#1c1c1c" stroke-width="0.18" >0</text>
<text x="415.60" y="505.00" font-size="8.6" text-anchor="middle" fill="#1c1c1c" stroke="#1c1c1c" stroke-width="0.18" >2</text>
<text x="449.60" y="505.00" font-size="8.6" text-anchor="middle" fill="#1c1c1c" stroke="#1c1c1c" stroke-width="0.18" >4</text>
<text x="483.60" y="505.00" font-size="8.6" text-anchor="middle" fill="#1c1c1c" stroke="#1c1c1c" stroke-width="0.18" >6</text>
<text x="400.30" y="517.80" font-size="9.2" fill="#1c1c1c" stroke="#1c1c1c" stroke-width="0.32" textLength="67.10" lengthAdjust="spacingAndGlyphs">Weeks post-treatment</text>
<g transform="translate(366.0 455.5) rotate(-90)">
<text x="0.00" y="0.00" font-size="9.6" text-anchor="start" fill="#1c1c1c" stroke="#1c1c1c" stroke-width="0.18" textLength="80.6" lengthAdjust="spacingAndGlyphs" >Photon counts per sec (×10</text>
<text x="81.00" y="-3.80" font-size="5.6" text-anchor="start" fill="#1c1c1c" stroke="#1c1c1c" stroke-width="0.18" textLength="3.2" lengthAdjust="spacingAndGlyphs" >9</text>
<text x="85.40" y="0.00" font-size="9.6" text-anchor="start" fill="#1c1c1c" stroke="#1c1c1c" stroke-width="0.18" >)</text>
</g>
<line x1="398.60" y1="467.60" x2="398.60" y2="474.60" stroke="#5fae3e" stroke-width="0.9" />
<line x1="397.30" y1="467.60" x2="399.90" y2="467.60" stroke="#5fae3e" stroke-width="0.9" />
<line x1="397.30" y1="474.60" x2="399.90" y2="474.60" stroke="#5fae3e" stroke-width="0.9" />
<line x1="432.60" y1="423.40" x2="432.60" y2="447.20" stroke="#5fae3e" stroke-width="0.9" />
<line x1="431.30" y1="423.40" x2="433.90" y2="423.40" stroke="#5fae3e" stroke-width="0.9" />
<line x1="431.30" y1="447.20" x2="433.90" y2="447.20" stroke="#5fae3e" stroke-width="0.9" />
<line x1="483.60" y1="344.40" x2="483.60" y2="407.80" stroke="#5fae3e" stroke-width="0.9" />
<line x1="482.30" y1="344.40" x2="484.90" y2="344.40" stroke="#5fae3e" stroke-width="0.9" />
<line x1="482.30" y1="407.80" x2="484.90" y2="407.80" stroke="#5fae3e" stroke-width="0.9" />
<line x1="432.60" y1="450.40" x2="432.60" y2="466.00" stroke="#ae1338" stroke-width="0.9" />
<line x1="431.30" y1="450.40" x2="433.90" y2="450.40" stroke="#ae1338" stroke-width="0.9" />
<line x1="431.30" y1="466.00" x2="433.90" y2="466.00" stroke="#ae1338" stroke-width="0.9" />
<line x1="483.60" y1="407.50" x2="483.60" y2="451.70" stroke="#ae1338" stroke-width="0.9" />
<line x1="482.30" y1="407.50" x2="484.90" y2="407.50" stroke="#ae1338" stroke-width="0.9" />
<line x1="482.30" y1="451.70" x2="484.90" y2="451.70" stroke="#ae1338" stroke-width="0.9" />
<line x1="432.60" y1="460.00" x2="432.60" y2="469.60" stroke="#23448a" stroke-width="0.9" />
<line x1="431.30" y1="460.00" x2="433.90" y2="460.00" stroke="#23448a" stroke-width="0.9" />
<line x1="431.30" y1="469.60" x2="433.90" y2="469.60" stroke="#23448a" stroke-width="0.9" />
<line x1="483.60" y1="446.00" x2="483.60" y2="464.70" stroke="#23448a" stroke-width="0.9" />
<line x1="482.30" y1="446.00" x2="484.90" y2="446.00" stroke="#23448a" stroke-width="0.9" />
<line x1="482.30" y1="464.70" x2="484.90" y2="464.70" stroke="#23448a" stroke-width="0.9" />
<line x1="398.60" y1="471.00" x2="398.60" y2="478.50" stroke="#ae1338" stroke-width="0.9" />
<line x1="397.30" y1="471.00" x2="399.90" y2="471.00" stroke="#ae1338" stroke-width="0.9" />
<line x1="397.30" y1="478.50" x2="399.90" y2="478.50" stroke="#ae1338" stroke-width="0.9" />
<path d="M381.60 486.60 L398.60 477.00 L432.60 464.70 L483.60 454.60" stroke="#23448a" stroke-width="1.2" fill="none" />
<path d="M381.60 486.60 L398.60 480.60 L432.60 474.50 L483.60 470.10" stroke="#d4238f" stroke-width="1.2" fill="none" />
<path d="M381.60 486.60 L398.60 474.50 L432.60 458.50 L483.60 429.10" stroke="#ae1338" stroke-width="1.2" fill="none" />
<path d="M381.60 486.60 L398.60 471.30 L432.60 435.00 L483.60 376.10" stroke="#5fae3e" stroke-width="1.2" fill="none" />
<path d="M396.10 478.35 L398.60 482.85 L401.10 478.35 Z" fill="#d4238f"/>
<path d="M430.10 472.25 L432.60 476.75 L435.10 472.25 Z" fill="#d4238f"/>
<path d="M481.10 467.85 L483.60 472.35 L486.10 467.85 Z" fill="#d4238f"/>
<rect x="396.60" y="475.00" width="4.0" height="4.0" fill="#23448a"/>
<rect x="430.60" y="462.70" width="4.0" height="4.0" fill="#23448a"/>
<rect x="481.60" y="452.60" width="4.0" height="4.0" fill="#23448a"/>
<path d="M396.30 476.57 L398.60 472.43 L400.90 476.57 Z" fill="#ae1338"/>
<path d="M430.30 460.57 L432.60 456.43 L434.90 460.57 Z" fill="#ae1338"/>
<path d="M481.30 431.17 L483.60 427.03 L485.90 431.17 Z" fill="#ae1338"/>
<circle cx="398.60" cy="471.30" r="2.3" fill="#5fae3e"/>
<circle cx="432.60" cy="435.00" r="2.3" fill="#5fae3e"/>
<circle cx="483.60" cy="376.10" r="2.3" fill="#5fae3e"/>
<line x1="388.30" y1="371.60" x2="398.00" y2="371.60" stroke="#5fae3e" stroke-width="1.0" />
<circle cx="393.40" cy="371.60" r="2.0" fill="#5fae3e"/>
<text x="401.30" y="374.40" font-size="7.9" text-anchor="start" fill="#1c1c1c" stroke="#1c1c1c" stroke-width="0.18" textLength="23.6" lengthAdjust="spacingAndGlyphs" >Vehicle</text>
<line x1="388.30" y1="383.45" x2="398.00" y2="383.45" stroke="#ae1338" stroke-width="1.0" />
<path d="M391.00 385.21 L393.40 380.89 L395.80 385.21 Z" fill="#ae1338"/>
<text x="401.30" y="386.25" font-size="7.9" text-anchor="start" fill="#1c1c1c" stroke="#1c1c1c" stroke-width="0.18" textLength="27.8" lengthAdjust="spacingAndGlyphs" >PTC299</text>
<line x1="388.30" y1="395.30" x2="398.00" y2="395.30" stroke="#23448a" stroke-width="1.0" />
<rect x="391.45" y="393.35" width="3.9" height="3.9" fill="#23448a"/>
<text x="401.30" y="398.10" font-size="7.9" text-anchor="start" fill="#1c1c1c" stroke="#1c1c1c" stroke-width="0.18" textLength="16.0" lengthAdjust="spacingAndGlyphs" >DAC</text>
<line x1="388.30" y1="407.15" x2="398.00" y2="407.15" stroke="#d4238f" stroke-width="1.0" />
<path d="M390.90 405.30 L393.40 409.80 L395.90 405.30 Z" fill="#d4238f"/>
<text x="401.30" y="409.95" font-size="7.9" text-anchor="start" fill="#1c1c1c" stroke="#1c1c1c" stroke-width="0.18" textLength="49.1" lengthAdjust="spacingAndGlyphs" >PTC299+DAC</text>
<path d="M489.10 376.50 H490.50 V428.40 H489.10" stroke="#222" stroke-width="0.95" fill="none" />
<path d="M497.10 376.50 H498.50 V454.20 H497.10" stroke="#222" stroke-width="0.95" fill="none" />
<path d="M505.10 376.50 H506.50 V470.00 H505.10" stroke="#222" stroke-width="0.95" fill="none" />
<text x="493.00" y="402.90" font-size="7.4" text-anchor="middle" fill="#1c1c1c" stroke="#1c1c1c" stroke-width="0.18" transform="rotate(90 493.00 402.90)" >ns</text>
<text x="501.20" y="415.50" font-size="7.4" text-anchor="middle" fill="#1c1c1c" stroke="#1c1c1c" stroke-width="0.18" transform="rotate(90 501.20 415.50)" >ns</text>
<circle cx="510.3" cy="423.2" r="0.9" fill="#1c1c1c"/>
<text x="7.30" y="528.90" font-size="11.0" text-anchor="start" fill="#000" font-weight="bold" stroke="#000" stroke-width="0.3">F</text>
<line x1="43.90" y1="547.50" x2="43.90" y2="616.20" stroke="#1c1c1c" stroke-width="1.2" />
<line x1="43.30" y1="615.60" x2="111.30" y2="615.60" stroke="#1c1c1c" stroke-width="1.2" />
<line x1="40.80" y1="550.50" x2="43.90" y2="550.50" stroke="#1c1c1c" stroke-width="1.0" />
<text x="37.80" y="553.50" font-size="8.5" text-anchor="end" fill="#1c1c1c" stroke="#1c1c1c" stroke-width="0.18" >30</text>
<line x1="40.80" y1="572.00" x2="43.90" y2="572.00" stroke="#1c1c1c" stroke-width="1.0" />
<text x="37.80" y="575.00" font-size="8.5" text-anchor="end" fill="#1c1c1c" stroke="#1c1c1c" stroke-width="0.18" >20</text>
<line x1="40.80" y1="593.80" x2="43.90" y2="593.80" stroke="#1c1c1c" stroke-width="1.0" />
<text x="37.80" y="596.80" font-size="8.5" text-anchor="end" fill="#1c1c1c" stroke="#1c1c1c" stroke-width="0.18" >10</text>
<line x1="40.80" y1="615.60" x2="43.90" y2="615.60" stroke="#1c1c1c" stroke-width="1.0" />
<text x="37.80" y="618.60" font-size="8.5" text-anchor="end" fill="#1c1c1c" stroke="#1c1c1c" stroke-width="0.18" >0</text>
<line x1="43.90" y1="615.60" x2="43.90" y2="618.60" stroke="#1c1c1c" stroke-width="1.0" />
<text x="43.90" y="628.70" font-size="8.5" text-anchor="middle" fill="#1c1c1c" stroke="#1c1c1c" stroke-width="0.18" >0</text>
<line x1="65.60" y1="615.60" x2="65.60" y2="618.60" stroke="#1c1c1c" stroke-width="1.0" />
<text x="65.60" y="628.70" font-size="8.5" text-anchor="middle" fill="#1c1c1c" stroke="#1c1c1c" stroke-width="0.18" >1</text>
<line x1="87.30" y1="615.60" x2="87.30" y2="618.60" stroke="#1c1c1c" stroke-width="1.0" />
<text x="87.30" y="628.70" font-size="8.5" text-anchor="middle" fill="#1c1c1c" stroke="#1c1c1c" stroke-width="0.18" >2</text>
<line x1="109.00" y1="615.60" x2="109.00" y2="618.60" stroke="#1c1c1c" stroke-width="1.0" />
<text x="109.00" y="628.70" font-size="8.5" text-anchor="middle" fill="#1c1c1c" stroke="#1c1c1c" stroke-width="0.18" >3</text>
<text x="45.30" y="642.30" font-size="9.2" fill="#1c1c1c" stroke="#1c1c1c" stroke-width="0.32" textLength="64.80" lengthAdjust="spacingAndGlyphs">Post-treatment (wks)</text>
<text x="77.9" y="541.0" font-size="9.3" text-anchor="middle" fill="#1c1c1c" textLength="38.2" lengthAdjust="spacingAndGlyphs">BW (mg)</text>
<path d="M43.90 571.80 L65.60 572.20 L87.30 571.20 L109.00 570.20" stroke="#5fae3e" stroke-width="1.1" fill="none" />
<line x1="43.90" y1="569.30" x2="43.90" y2="574.30" stroke="#5fae3e" stroke-width="0.8" />
<line x1="42.90" y1="569.30" x2="44.90" y2="569.30" stroke="#5fae3e" stroke-width="0.7" />
<line x1="42.90" y1="574.30" x2="44.90" y2="574.30" stroke="#5fae3e" stroke-width="0.7" />
<circle cx="43.90" cy="571.80" r="1.2" fill="#5fae3e"/>
<line x1="65.60" y1="567.70" x2="65.60" y2="576.70" stroke="#5fae3e" stroke-width="0.8" />
<line x1="64.60" y1="567.70" x2="66.60" y2="567.70" stroke="#5fae3e" stroke-width="0.7" />
<line x1="64.60" y1="576.70" x2="66.60" y2="576.70" stroke="#5fae3e" stroke-width="0.7" />
<circle cx="65.60" cy="572.20" r="1.2" fill="#5fae3e"/>
<line x1="87.30" y1="566.70" x2="87.30" y2="575.70" stroke="#5fae3e" stroke-width="0.8" />
<line x1="86.30" y1="566.70" x2="88.30" y2="566.70" stroke="#5fae3e" stroke-width="0.7" />
<line x1="86.30" y1="575.70" x2="88.30" y2="575.70" stroke="#5fae3e" stroke-width="0.7" />
<circle cx="87.30" cy="571.20" r="1.2" fill="#5fae3e"/>
<line x1="109.00" y1="567.70" x2="109.00" y2="572.70" stroke="#5fae3e" stroke-width="0.8" />
<line x1="108.00" y1="567.70" x2="110.00" y2="567.70" stroke="#5fae3e" stroke-width="0.7" />
<line x1="108.00" y1="572.70" x2="110.00" y2="572.70" stroke="#5fae3e" stroke-width="0.7" />
<circle cx="109.00" cy="570.20" r="1.2" fill="#5fae3e"/>
<path d="M43.90 571.00 L65.60 571.40 L87.30 572.20 L109.00 572.20" stroke="#d4238f" stroke-width="1.1" fill="none" />
<circle cx="43.90" cy="571.00" r="1.2" fill="#d4238f"/>
<circle cx="65.60" cy="571.40" r="1.2" fill="#d4238f"/>
<line x1="87.30" y1="568.70" x2="87.30" y2="575.70" stroke="#d4238f" stroke-width="0.8" />
<line x1="86.30" y1="568.70" x2="88.30" y2="568.70" stroke="#d4238f" stroke-width="0.7" />
<line x1="86.30" y1="575.70" x2="88.30" y2="575.70" stroke="#d4238f" stroke-width="0.7" />
<circle cx="87.30" cy="572.20" r="1.2" fill="#d4238f"/>
<line x1="109.00" y1="570.20" x2="109.00" y2="574.20" stroke="#d4238f" stroke-width="0.8" />
<line x1="108.00" y1="570.20" x2="110.00" y2="570.20" stroke="#d4238f" stroke-width="0.7" />
<line x1="108.00" y1="574.20" x2="110.00" y2="574.20" stroke="#d4238f" stroke-width="0.7" />
<circle cx="109.00" cy="572.20" r="1.2" fill="#d4238f"/>
<path d="M43.90 571.30 L65.60 571.60 L87.30 569.30 L109.00 567.70" stroke="#23448a" stroke-width="1.1" fill="none" />
<circle cx="43.90" cy="571.30" r="1.2" fill="#23448a"/>
<circle cx="65.60" cy="571.60" r="1.2" fill="#23448a"/>
<line x1="87.30" y1="567.30" x2="87.30" y2="571.30" stroke="#23448a" stroke-width="0.8" />
<line x1="86.30" y1="567.30" x2="88.30" y2="567.30" stroke="#23448a" stroke-width="0.7" />
<line x1="86.30" y1="571.30" x2="88.30" y2="571.30" stroke="#23448a" stroke-width="0.7" />
<circle cx="87.30" cy="569.30" r="1.2" fill="#23448a"/>
<line x1="109.00" y1="566.20" x2="109.00" y2="569.20" stroke="#23448a" stroke-width="0.8" />
<line x1="108.00" y1="566.20" x2="110.00" y2="566.20" stroke="#23448a" stroke-width="0.7" />
<line x1="108.00" y1="569.20" x2="110.00" y2="569.20" stroke="#23448a" stroke-width="0.7" />
<circle cx="109.00" cy="567.70" r="1.2" fill="#23448a"/>
<path d="M43.90 570.10 L65.60 571.00 L87.30 569.30 L109.00 569.40" stroke="#ae1338" stroke-width="1.1" fill="none" />
<line x1="43.90" y1="568.80" x2="43.90" y2="571.40" stroke="#ae1338" stroke-width="0.8" />
<line x1="42.90" y1="568.80" x2="44.90" y2="568.80" stroke="#ae1338" stroke-width="0.7" />
<line x1="42.90" y1="571.40" x2="44.90" y2="571.40" stroke="#ae1338" stroke-width="0.7" />
<circle cx="43.90" cy="570.10" r="1.2" fill="#ae1338"/>
<circle cx="65.60" cy="571.00" r="1.2" fill="#ae1338"/>
<circle cx="87.30" cy="569.30" r="1.2" fill="#ae1338"/>
<circle cx="109.00" cy="569.40" r="1.2" fill="#ae1338"/>
<text x="109.40" y="583.40" font-size="7.4" text-anchor="middle" fill="#333" stroke="#333" stroke-width="0.18" >ns</text>
<line x1="145.00" y1="547.50" x2="145.00" y2="616.20" stroke="#1c1c1c" stroke-width="1.2" />
<line x1="144.40" y1="615.60" x2="213.00" y2="615.60" stroke="#1c1c1c" stroke-width="1.2" />
<line x1="141.90" y1="550.50" x2="145.00" y2="550.50" stroke="#1c1c1c" stroke-width="1.0" />
<text x="138.90" y="553.50" font-size="8.5" text-anchor="end" fill="#1c1c1c" stroke="#1c1c1c" stroke-width="0.18" >20</text>
<line x1="141.90" y1="583.00" x2="145.00" y2="583.00" stroke="#1c1c1c" stroke-width="1.0" />
<text x="138.90" y="586.00" font-size="8.5" text-anchor="end" fill="#1c1c1c" stroke="#1c1c1c" stroke-width="0.18" >10</text>
<line x1="141.90" y1="615.60" x2="145.00" y2="615.60" stroke="#1c1c1c" stroke-width="1.0" />
<text x="138.90" y="618.60" font-size="8.5" text-anchor="end" fill="#1c1c1c" stroke="#1c1c1c" stroke-width="0.18" >0</text>
<line x1="145.00" y1="615.60" x2="145.00" y2="618.60" stroke="#1c1c1c" stroke-width="1.0" />
<text x="145.00" y="628.70" font-size="8.5" text-anchor="middle" fill="#1c1c1c" stroke="#1c1c1c" stroke-width="0.18" >Pre</text>
<line x1="210.00" y1="615.60" x2="210.00" y2="618.60" stroke="#1c1c1c" stroke-width="1.0" />
<text x="210.00" y="628.70" font-size="8.5" text-anchor="middle" fill="#1c1c1c" stroke="#1c1c1c" stroke-width="0.18" >Post</text>
<text x="163.70" y="642.30" font-size="9.2" fill="#1c1c1c" stroke="#1c1c1c" stroke-width="0.32" textLength="30.20" lengthAdjust="spacingAndGlyphs">Treatment</text>
<text x="179.3" y="541.0" font-size="9.3" text-anchor="middle" fill="#1c1c1c" textLength="37.5" lengthAdjust="spacingAndGlyphs">Hb (g/dl)</text>
<path d="M145.00 560.20 L210.00 569.60" stroke="#5fae3e" stroke-width="1.1" fill="none" />
<line x1="145.00" y1="559.00" x2="145.00" y2="561.40" stroke="#5fae3e" stroke-width="0.8" />
<line x1="144.00" y1="559.00" x2="146.00" y2="559.00" stroke="#5fae3e" stroke-width="0.7" />
<line x1="144.00" y1="561.40" x2="146.00" y2="561.40" stroke="#5fae3e" stroke-width="0.7" />
<circle cx="145.00" cy="560.20" r="1.2" fill="#5fae3e"/>
<line x1="210.00" y1="564.10" x2="210.00" y2="575.10" stroke="#5fae3e" stroke-width="0.8" />
<line x1="209.00" y1="564.10" x2="211.00" y2="564.10" stroke="#5fae3e" stroke-width="0.7" />
<line x1="209.00" y1="575.10" x2="211.00" y2="575.10" stroke="#5fae3e" stroke-width="0.7" />
<circle cx="210.00" cy="569.60" r="1.2" fill="#5fae3e"/>
<path d="M145.00 561.00 L210.00 566.30" stroke="#23448a" stroke-width="1.1" fill="none" />
<circle cx="145.00" cy="561.00" r="1.2" fill="#23448a"/>
<line x1="210.00" y1="564.30" x2="210.00" y2="568.30" stroke="#23448a" stroke-width="0.8" />
<line x1="209.00" y1="564.30" x2="211.00" y2="564.30" stroke="#23448a" stroke-width="0.7" />
<line x1="209.00" y1="568.30" x2="211.00" y2="568.30" stroke="#23448a" stroke-width="0.7" />
<circle cx="210.00" cy="566.30" r="1.2" fill="#23448a"/>
<path d="M145.00 562.20 L210.00 563.30" stroke="#ae1338" stroke-width="1.1" fill="none" />
<line x1="145.00" y1="561.00" x2="145.00" y2="563.40" stroke="#ae1338" stroke-width="0.8" />
<line x1="144.00" y1="561.00" x2="146.00" y2="561.00" stroke="#ae1338" stroke-width="0.7" />
<line x1="144.00" y1="563.40" x2="146.00" y2="563.40" stroke="#ae1338" stroke-width="0.7" />
<circle cx="145.00" cy="562.20" r="1.2" fill="#ae1338"/>
<line x1="210.00" y1="559.30" x2="210.00" y2="567.30" stroke="#ae1338" stroke-width="0.8" />
<line x1="209.00" y1="559.30" x2="211.00" y2="559.30" stroke="#ae1338" stroke-width="0.7" />
<line x1="209.00" y1="567.30" x2="211.00" y2="567.30" stroke="#ae1338" stroke-width="0.7" />
<circle cx="210.00" cy="563.30" r="1.2" fill="#ae1338"/>
<text x="210.40" y="582.60" font-size="7.4" text-anchor="middle" fill="#333" stroke="#333" stroke-width="0.18" >ns</text>
<line x1="249.60" y1="547.50" x2="249.60" y2="616.20" stroke="#1c1c1c" stroke-width="1.2" />
<line x1="249.00" y1="615.60" x2="317.50" y2="615.60" stroke="#1c1c1c" stroke-width="1.2" />
<line x1="246.50" y1="550.50" x2="249.60" y2="550.50" stroke="#1c1c1c" stroke-width="1.0" />
<text x="243.50" y="553.50" font-size="8.5" text-anchor="end" fill="#1c1c1c" stroke="#1c1c1c" stroke-width="0.18" >40</text>
<line x1="246.50" y1="566.30" x2="249.60" y2="566.30" stroke="#1c1c1c" stroke-width="1.0" />
<text x="243.50" y="569.30" font-size="8.5" text-anchor="end" fill="#1c1c1c" stroke="#1c1c1c" stroke-width="0.18" >30</text>
<line x1="246.50" y1="582.60" x2="249.60" y2="582.60" stroke="#1c1c1c" stroke-width="1.0" />
<text x="243.50" y="585.60" font-size="8.5" text-anchor="end" fill="#1c1c1c" stroke="#1c1c1c" stroke-width="0.18" >20</text>
<line x1="246.50" y1="598.80" x2="249.60" y2="598.80" stroke="#1c1c1c" stroke-width="1.0" />
<text x="243.50" y="601.80" font-size="8.5" text-anchor="end" fill="#1c1c1c" stroke="#1c1c1c" stroke-width="0.18" >10</text>
<line x1="246.50" y1="615.60" x2="249.60" y2="615.60" stroke="#1c1c1c" stroke-width="1.0" />
<text x="243.50" y="618.60" font-size="8.5" text-anchor="end" fill="#1c1c1c" stroke="#1c1c1c" stroke-width="0.18" >0</text>
<line x1="249.60" y1="615.60" x2="249.60" y2="618.60" stroke="#1c1c1c" stroke-width="1.0" />
<text x="249.60" y="628.70" font-size="8.5" text-anchor="middle" fill="#1c1c1c" stroke="#1c1c1c" stroke-width="0.18" >Pre</text>
<line x1="315.00" y1="615.60" x2="315.00" y2="618.60" stroke="#1c1c1c" stroke-width="1.0" />
<text x="315.00" y="628.70" font-size="8.5" text-anchor="middle" fill="#1c1c1c" stroke="#1c1c1c" stroke-width="0.18" >Post</text>
<text x="268.30" y="642.30" font-size="9.2" fill="#1c1c1c" stroke="#1c1c1c" stroke-width="0.32" textLength="30.40" lengthAdjust="spacingAndGlyphs">Treatment</text>
<text x="250.5" y="541.0" font-size="9.3" fill="#1c1c1c" textLength="45" lengthAdjust="spacingAndGlyphs">WBC (×10</text><text x="296.2" y="537.0" font-size="5.8" fill="#1c1c1c">2</text><text x="299.8" y="541.0" font-size="9.3" fill="#1c1c1c" textLength="17.7" lengthAdjust="spacingAndGlyphs">/µl)</text>
<path d="M249.60 585.00 L315.00 583.80" stroke="#23448a" stroke-width="1.1" fill="none" />
<line x1="249.60" y1="582.00" x2="249.60" y2="588.00" stroke="#23448a" stroke-width="0.8" />
<line x1="248.60" y1="582.00" x2="250.60" y2="582.00" stroke="#23448a" stroke-width="0.7" />
<line x1="248.60" y1="588.00" x2="250.60" y2="588.00" stroke="#23448a" stroke-width="0.7" />
<circle cx="249.60" cy="585.00" r="1.2" fill="#23448a"/>
<line x1="315.00" y1="575.80" x2="315.00" y2="591.80" stroke="#23448a" stroke-width="0.8" />
<line x1="314.00" y1="575.80" x2="316.00" y2="575.80" stroke="#23448a" stroke-width="0.7" />
<line x1="314.00" y1="591.80" x2="316.00" y2="591.80" stroke="#23448a" stroke-width="0.7" />
<circle cx="315.00" cy="583.80" r="1.2" fill="#23448a"/>
<path d="M249.60 582.00 L315.00 586.30" stroke="#5fae3e" stroke-width="1.1" fill="none" />
<line x1="249.60" y1="580.00" x2="249.60" y2="584.00" stroke="#5fae3e" stroke-width="0.8" />
<line x1="248.60" y1="580.00" x2="250.60" y2="580.00" stroke="#5fae3e" stroke-width="0.7" />
<line x1="248.60" y1="584.00" x2="250.60" y2="584.00" stroke="#5fae3e" stroke-width="0.7" />
<circle cx="249.60" cy="582.00" r="1.2" fill="#5fae3e"/>
<line x1="315.00" y1="582.30" x2="315.00" y2="590.30" stroke="#5fae3e" stroke-width="0.8" />
<line x1="314.00" y1="582.30" x2="316.00" y2="582.30" stroke="#5fae3e" stroke-width="0.7" />
<line x1="314.00" y1="590.30" x2="316.00" y2="590.30" stroke="#5fae3e" stroke-width="0.7" />
<circle cx="315.00" cy="586.30" r="1.2" fill="#5fae3e"/>
<path d="M249.60 580.50 L315.00 588.50" stroke="#d4238f" stroke-width="1.1" fill="none" />
<line x1="249.60" y1="578.50" x2="249.60" y2="582.50" stroke="#d4238f" stroke-width="0.8" />
<line x1="248.60" y1="578.50" x2="250.60" y2="578.50" stroke="#d4238f" stroke-width="0.7" />
<line x1="248.60" y1="582.50" x2="250.60" y2="582.50" stroke="#d4238f" stroke-width="0.7" />
<circle cx="249.60" cy="580.50" r="1.2" fill="#d4238f"/>
<line x1="315.00" y1="586.00" x2="315.00" y2="591.00" stroke="#d4238f" stroke-width="0.8" />
<line x1="314.00" y1="586.00" x2="316.00" y2="586.00" stroke="#d4238f" stroke-width="0.7" />
<line x1="314.00" y1="591.00" x2="316.00" y2="591.00" stroke="#d4238f" stroke-width="0.7" />
<circle cx="315.00" cy="588.50" r="1.2" fill="#d4238f"/>
<path d="M249.60 572.50 L315.00 593.00" stroke="#ae1338" stroke-width="1.1" fill="none" />
<line x1="249.60" y1="566.50" x2="249.60" y2="578.50" stroke="#ae1338" stroke-width="0.8" />
<line x1="248.60" y1="566.50" x2="250.60" y2="566.50" stroke="#ae1338" stroke-width="0.7" />
<line x1="248.60" y1="578.50" x2="250.60" y2="578.50" stroke="#ae1338" stroke-width="0.7" />
<circle cx="249.60" cy="572.50" r="1.2" fill="#ae1338"/>
<line x1="315.00" y1="591.00" x2="315.00" y2="595.00" stroke="#ae1338" stroke-width="0.8" />
<line x1="314.00" y1="591.00" x2="316.00" y2="591.00" stroke="#ae1338" stroke-width="0.7" />
<line x1="314.00" y1="595.00" x2="316.00" y2="595.00" stroke="#ae1338" stroke-width="0.7" />
<circle cx="315.00" cy="593.00" r="1.2" fill="#ae1338"/>
<text x="315.40" y="602.60" font-size="7.4" text-anchor="middle" fill="#333" stroke="#333" stroke-width="0.18" >ns</text>
<line x1="359.50" y1="547.50" x2="359.50" y2="616.20" stroke="#1c1c1c" stroke-width="1.2" />
<line x1="358.90" y1="615.60" x2="427.00" y2="615.60" stroke="#1c1c1c" stroke-width="1.2" />
<line x1="356.40" y1="550.50" x2="359.50" y2="550.50" stroke="#1c1c1c" stroke-width="1.0" />
<text x="353.40" y="553.50" font-size="8.5" text-anchor="end" fill="#1c1c1c" stroke="#1c1c1c" stroke-width="0.18" >250</text>
<line x1="356.40" y1="566.30" x2="359.50" y2="566.30" stroke="#1c1c1c" stroke-width="1.0" />
<text x="353.40" y="569.30" font-size="8.5" text-anchor="end" fill="#1c1c1c" stroke="#1c1c1c" stroke-width="0.18" >200</text>
<line x1="356.40" y1="582.60" x2="359.50" y2="582.60" stroke="#1c1c1c" stroke-width="1.0" />
<text x="353.40" y="585.60" font-size="8.5" text-anchor="end" fill="#1c1c1c" stroke="#1c1c1c" stroke-width="0.18" >150</text>
<line x1="356.40" y1="598.80" x2="359.50" y2="598.80" stroke="#1c1c1c" stroke-width="1.0" />
<text x="353.40" y="601.80" font-size="8.5" text-anchor="end" fill="#1c1c1c" stroke="#1c1c1c" stroke-width="0.18" >100</text>
<line x1="356.40" y1="615.60" x2="359.50" y2="615.60" stroke="#1c1c1c" stroke-width="1.0" />
<text x="353.40" y="618.60" font-size="8.5" text-anchor="end" fill="#1c1c1c" stroke="#1c1c1c" stroke-width="0.18" >0</text>
<line x1="359.50" y1="615.60" x2="359.50" y2="618.60" stroke="#1c1c1c" stroke-width="1.0" />
<text x="359.50" y="628.70" font-size="8.5" text-anchor="middle" fill="#1c1c1c" stroke="#1c1c1c" stroke-width="0.18" >Pre</text>
<line x1="424.50" y1="615.60" x2="424.50" y2="618.60" stroke="#1c1c1c" stroke-width="1.0" />
<text x="424.50" y="628.70" font-size="8.5" text-anchor="middle" fill="#1c1c1c" stroke="#1c1c1c" stroke-width="0.18" >Post</text>
<text x="378.30" y="642.30" font-size="9.2" fill="#1c1c1c" stroke="#1c1c1c" stroke-width="0.32" textLength="30.40" lengthAdjust="spacingAndGlyphs">Treatment</text>
<text x="364.5" y="541.0" font-size="9.3" fill="#1c1c1c" textLength="41" lengthAdjust="spacingAndGlyphs">PLT (×10</text><text x="406.2" y="537.0" font-size="5.8" fill="#1c1c1c">4</text><text x="409.8" y="541.0" font-size="9.3" fill="#1c1c1c" textLength="12.5" lengthAdjust="spacingAndGlyphs">/µl)</text>
<path d="M359.50 585.80 L424.50 593.00" stroke="#5fae3e" stroke-width="1.1" fill="none" />
<line x1="359.50" y1="584.30" x2="359.50" y2="587.30" stroke="#5fae3e" stroke-width="0.8" />
<line x1="358.50" y1="584.30" x2="360.50" y2="584.30" stroke="#5fae3e" stroke-width="0.7" />
<line x1="358.50" y1="587.30" x2="360.50" y2="587.30" stroke="#5fae3e" stroke-width="0.7" />
<circle cx="359.50" cy="585.80" r="1.2" fill="#5fae3e"/>
<line x1="424.50" y1="588.00" x2="424.50" y2="598.00" stroke="#5fae3e" stroke-width="0.8" />
<line x1="423.50" y1="588.00" x2="425.50" y2="588.00" stroke="#5fae3e" stroke-width="0.7" />
<line x1="423.50" y1="598.00" x2="425.50" y2="598.00" stroke="#5fae3e" stroke-width="0.7" />
<circle cx="424.50" cy="593.00" r="1.2" fill="#5fae3e"/>
<path d="M359.50 584.60 L424.50 584.90" stroke="#ae1338" stroke-width="1.1" fill="none" />
<circle cx="359.50" cy="584.60" r="1.2" fill="#ae1338"/>
<line x1="424.50" y1="581.90" x2="424.50" y2="587.90" stroke="#ae1338" stroke-width="0.8" />
<line x1="423.50" y1="581.90" x2="425.50" y2="581.90" stroke="#ae1338" stroke-width="0.7" />
<line x1="423.50" y1="587.90" x2="425.50" y2="587.90" stroke="#ae1338" stroke-width="0.7" />
<circle cx="424.50" cy="584.90" r="1.2" fill="#ae1338"/>
<path d="M359.50 587.00 L424.50 584.30" stroke="#23448a" stroke-width="1.1" fill="none" />
<line x1="359.50" y1="585.50" x2="359.50" y2="588.50" stroke="#23448a" stroke-width="0.8" />
<line x1="358.50" y1="585.50" x2="360.50" y2="585.50" stroke="#23448a" stroke-width="0.7" />
<line x1="358.50" y1="588.50" x2="360.50" y2="588.50" stroke="#23448a" stroke-width="0.7" />
<circle cx="359.50" cy="587.00" r="1.2" fill="#23448a"/>
<line x1="424.50" y1="578.30" x2="424.50" y2="590.30" stroke="#23448a" stroke-width="0.8" />
<line x1="423.50" y1="578.30" x2="425.50" y2="578.30" stroke="#23448a" stroke-width="0.7" />
<line x1="423.50" y1="590.30" x2="425.50" y2="590.30" stroke="#23448a" stroke-width="0.7" />
<circle cx="424.50" cy="584.30" r="1.2" fill="#23448a"/>
<path d="M359.50 583.00 L424.50 573.30" stroke="#d4238f" stroke-width="1.1" fill="none" />
<line x1="359.50" y1="581.50" x2="359.50" y2="584.50" stroke="#d4238f" stroke-width="0.8" />
<line x1="358.50" y1="581.50" x2="360.50" y2="581.50" stroke="#d4238f" stroke-width="0.7" />
<line x1="358.50" y1="584.50" x2="360.50" y2="584.50" stroke="#d4238f" stroke-width="0.7" />
<circle cx="359.50" cy="583.00" r="1.2" fill="#d4238f"/>
<line x1="424.50" y1="562.30" x2="424.50" y2="584.30" stroke="#d4238f" stroke-width="0.8" />
<line x1="423.50" y1="562.30" x2="425.50" y2="562.30" stroke="#d4238f" stroke-width="0.7" />
<line x1="423.50" y1="584.30" x2="425.50" y2="584.30" stroke="#d4238f" stroke-width="0.7" />
<circle cx="424.50" cy="573.30" r="1.2" fill="#d4238f"/>
<text x="425.40" y="604.60" font-size="7.4" text-anchor="middle" fill="#333" stroke="#333" stroke-width="0.18" >ns</text>
<line x1="441.80" y1="563.00" x2="451.10" y2="563.00" stroke="#5fae3e" stroke-width="1.1" />
<circle cx="446.40" cy="563.00" r="2.0" fill="#5fae3e"/>
<text x="454.60" y="565.80" font-size="7.9" text-anchor="start" fill="#1c1c1c" stroke="#1c1c1c" stroke-width="0.18" textLength="23.0" lengthAdjust="spacingAndGlyphs" >Vehicle</text>
<line x1="441.80" y1="575.10" x2="451.10" y2="575.10" stroke="#ae1338" stroke-width="1.1" />
<path d="M444.10 576.77 L446.40 572.63 L448.70 576.77 Z" fill="#ae1338"/>
<text x="454.60" y="577.90" font-size="7.9" text-anchor="start" fill="#1c1c1c" stroke="#1c1c1c" stroke-width="0.18" textLength="27.3" lengthAdjust="spacingAndGlyphs" >PTC299</text>
<line x1="441.80" y1="587.20" x2="451.10" y2="587.20" stroke="#23448a" stroke-width="1.1" />
<rect x="444.55" y="585.35" width="3.7" height="3.7" fill="#23448a"/>
<text x="454.60" y="590.00" font-size="7.9" text-anchor="start" fill="#1c1c1c" stroke="#1c1c1c" stroke-width="0.18" textLength="15.6" lengthAdjust="spacingAndGlyphs" >DAC</text>
<line x1="441.80" y1="599.30" x2="451.10" y2="599.30" stroke="#d4238f" stroke-width="1.1" />
<path d="M444.00 597.54 L446.40 601.86 L448.80 597.54 Z" fill="#d4238f"/>
<text x="454.60" y="602.10" font-size="7.9" text-anchor="start" fill="#1c1c1c" stroke="#1c1c1c" stroke-width="0.18" textLength="49.0" lengthAdjust="spacingAndGlyphs" >PTC299+DAC</text>
</g></svg></body></html>
